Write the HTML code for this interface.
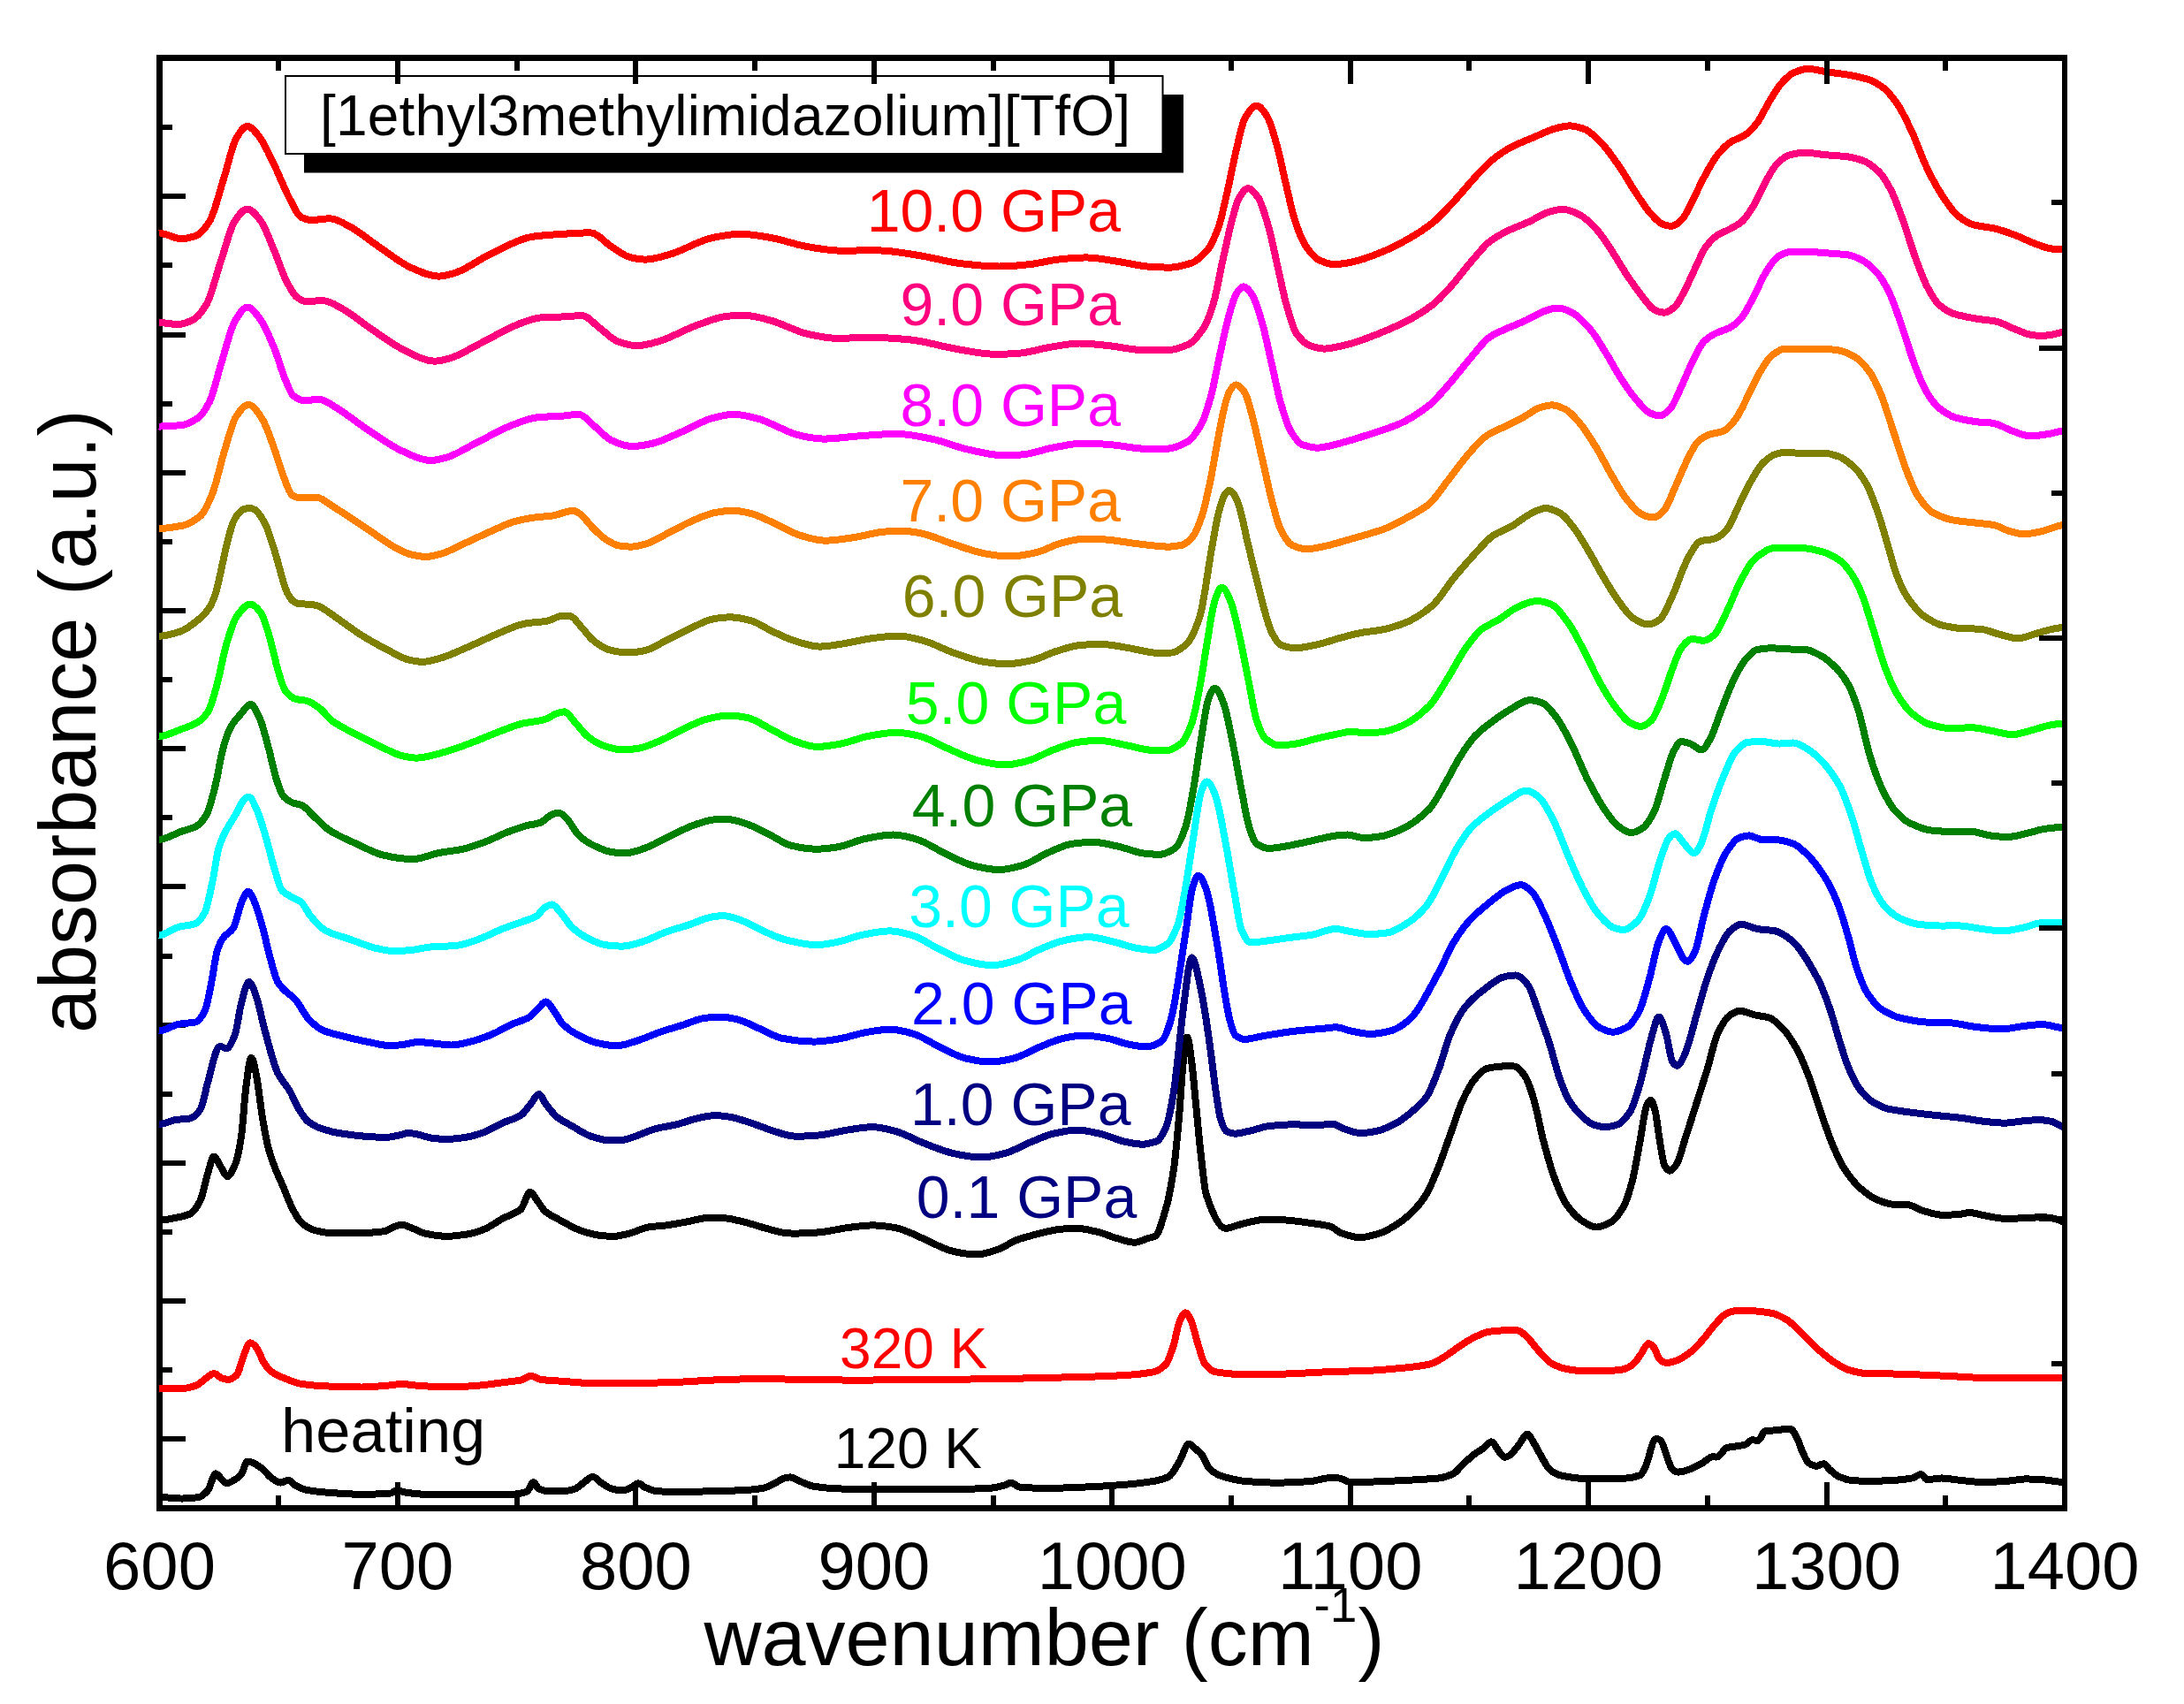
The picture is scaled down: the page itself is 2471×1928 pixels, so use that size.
<!DOCTYPE html>
<html><head><meta charset="utf-8"><title>IR absorbance spectra</title>
<style>
html,body{margin:0;padding:0;background:#fff}
body{width:2471px;height:1928px;overflow:hidden}
svg{display:block}
text{font-family:"Liberation Sans",sans-serif}
</style></head><body>
<svg width="2471" height="1928" viewBox="0 0 2471 1928">
<rect width="2471" height="1928" fill="#fff"/>
<path d="M315.2 1703.0v-11M449.9 1703.0v-26M584.7 1703.0v-11M719.4 1703.0v-26M854.1 1703.0v-11M988.8 1703.0v-26M1123.5 1703.0v-11M1258.2 1703.0v-26M1393.0 1703.0v-11M1527.7 1703.0v-26M1662.4 1703.0v-11M1797.1 1703.0v-26M1931.8 1703.0v-11M2066.6 1703.0v-26M2201.3 1703.0v-11M184 1628.3h26M184 1550.2h11M184 1472.1h26M184 1394.0h11M184 1315.9h26M184 1237.7h11M184 1159.6h26M184 1081.5h11M184 1003.4h26M184 925.3h11M184 847.2h26M184 769.1h11M184 691.0h26M184 612.9h11M184 534.7h26M184 456.6h11M184 378.5h26M184 300.4h11M184 222.3h26M184 144.2h11" stroke="#000" stroke-width="6" fill="none" shape-rendering="crispEdges"/>
<path d="M177 1703H2339V1710H177ZM177 62H184V1710H177Z" fill="#000" shape-rendering="crispEdges"/>
<g fill="none" stroke-width="8" stroke-linejoin="round" stroke-linecap="butt" shape-rendering="crispEdges">
<path stroke="#000000" d="M180.0 1694.1C180.7 1694.1 181.3 1694.1 182.0 1694.1C189.5 1694.2 196.9 1695.3 204.3 1695.5C211.2 1695.7 218.1 1694.9 224.9 1694.1C228.4 1693.7 231.8 1690.0 235.2 1686.2C238.2 1682.9 241.2 1667.0 244.2 1667.3C246.4 1667.6 248.5 1671.5 250.7 1673.5C252.4 1675.1 254.1 1678.0 255.9 1678.3C258.1 1678.7 260.4 1677.0 262.7 1675.9C266.0 1674.3 269.2 1672.2 272.5 1668.7C275.0 1666.1 277.4 1654.1 279.9 1653.6C282.2 1653.2 284.5 1654.2 286.8 1655.3C290.2 1656.9 293.6 1659.4 297.1 1662.2C300.5 1664.9 303.9 1670.1 307.4 1672.5C310.8 1674.9 314.2 1677.4 317.7 1677.6C320.6 1677.8 323.6 1674.4 326.6 1674.7C329.3 1675.1 332.1 1679.7 334.8 1681.1C339.4 1683.4 344.0 1685.5 348.6 1686.2C355.4 1687.3 362.3 1688.1 369.2 1688.6C380.6 1689.5 392.1 1690.4 403.5 1690.7C416.1 1691.0 428.7 1690.5 441.3 1689.7C444.2 1689.5 447.0 1686.2 449.9 1686.2C452.7 1686.3 455.6 1688.2 458.5 1688.6C465.3 1689.6 472.2 1690.5 479.1 1690.7C490.5 1691.0 502.0 1691.3 513.4 1691.4C524.9 1691.4 536.3 1691.4 547.7 1691.4C559.2 1691.4 570.6 1691.0 582.1 1690.7C586.7 1690.5 591.2 1689.5 595.8 1687.9C598.5 1687.0 601.1 1677.1 603.7 1677.1C605.7 1677.1 607.6 1683.7 609.6 1684.5C613.0 1686.0 616.4 1687.2 619.9 1687.3C625.6 1687.4 631.3 1687.4 637.0 1687.3C641.6 1687.1 646.2 1686.1 650.8 1684.5C654.2 1683.3 657.6 1679.3 661.1 1677.0C664.3 1674.7 667.5 1670.7 670.7 1670.8C673.8 1670.8 676.9 1675.7 680.0 1677.6C684.0 1680.2 688.0 1683.4 692.0 1684.5C696.6 1685.8 701.1 1686.7 705.7 1686.2C709.1 1685.9 712.6 1683.5 716.0 1681.8C718.0 1680.8 719.9 1678.3 721.9 1678.3C724.5 1678.3 727.1 1681.7 729.8 1682.8C734.3 1684.6 738.9 1687.0 743.5 1687.3C752.6 1687.7 761.8 1688.0 771.0 1687.9C782.4 1687.8 793.9 1687.5 805.3 1687.3C816.7 1687.0 828.2 1686.7 839.6 1686.2C847.7 1685.9 855.7 1685.2 863.7 1683.8C868.3 1683.0 872.8 1679.8 877.4 1677.6C880.9 1676.0 884.3 1673.5 887.7 1672.5C890.0 1671.8 892.3 1671.2 894.6 1671.5C898.0 1671.9 901.5 1674.5 904.9 1675.9C910.1 1678.0 915.4 1681.0 920.6 1681.8C930.9 1683.3 941.2 1684.3 951.5 1684.5C968.7 1684.8 985.9 1685.2 1003.0 1685.2C1025.9 1685.2 1048.8 1685.2 1071.7 1685.2C1087.7 1685.2 1103.8 1684.6 1119.8 1683.8C1125.5 1683.5 1131.2 1681.9 1137.0 1680.4C1139.2 1679.8 1141.5 1677.7 1143.8 1677.6C1147.3 1677.6 1150.7 1682.6 1154.1 1682.8C1166.7 1683.6 1179.3 1684.1 1191.9 1683.8C1209.1 1683.5 1226.2 1682.6 1243.4 1681.8C1254.9 1681.2 1266.3 1680.3 1277.7 1679.4C1286.9 1678.6 1296.1 1677.3 1305.2 1675.9C1310.9 1675.0 1316.7 1673.6 1322.4 1670.8C1326.4 1668.8 1330.4 1660.1 1334.4 1653.6C1337.8 1648.0 1341.3 1634.3 1344.7 1633.9C1347.6 1633.5 1350.4 1637.4 1353.3 1639.9C1355.6 1641.8 1357.9 1643.8 1360.2 1646.7C1363.0 1650.3 1365.9 1659.7 1368.8 1662.2C1373.9 1666.7 1379.1 1669.3 1384.2 1670.8C1392.2 1673.0 1400.2 1675.3 1408.2 1675.9C1419.7 1676.8 1431.1 1677.6 1442.6 1677.6C1456.3 1677.7 1470.1 1677.0 1483.8 1675.9C1489.5 1675.5 1495.2 1672.9 1501.0 1672.5C1505.5 1672.1 1510.1 1672.2 1514.7 1672.5C1519.3 1672.8 1523.9 1676.9 1528.4 1677.0C1542.2 1677.1 1555.9 1676.5 1569.6 1675.9C1588.9 1675.1 1608.2 1674.2 1627.5 1672.5C1633.2 1672.0 1638.9 1670.2 1644.6 1667.3C1648.1 1665.6 1651.5 1660.2 1654.9 1657.0C1659.5 1652.8 1664.1 1648.5 1668.7 1645.0C1672.1 1642.4 1675.5 1640.6 1679.0 1638.1C1681.8 1636.1 1684.7 1631.2 1687.6 1631.3C1689.9 1631.3 1692.1 1637.0 1694.4 1639.9C1696.7 1642.7 1699.0 1647.6 1701.3 1648.4C1703.6 1649.3 1705.9 1648.2 1708.2 1646.7C1711.6 1644.5 1715.0 1638.9 1718.5 1634.7C1721.6 1630.9 1724.7 1623.2 1727.7 1622.7C1730.4 1622.3 1733.0 1628.9 1735.6 1633.0C1738.5 1637.5 1741.4 1643.6 1744.2 1648.4C1747.1 1653.3 1750.0 1659.7 1752.8 1662.2C1756.8 1665.7 1760.8 1668.1 1764.8 1669.1C1771.7 1670.6 1778.6 1672.1 1785.4 1672.5C1794.6 1673.0 1803.8 1673.5 1812.9 1673.5C1822.1 1673.5 1831.2 1673.0 1840.4 1672.5C1845.5 1672.2 1850.7 1671.0 1855.8 1669.1C1858.1 1668.2 1860.4 1662.1 1862.7 1657.0C1865.7 1650.4 1868.8 1631.9 1871.8 1629.2C1874.5 1626.9 1877.2 1627.9 1879.9 1631.3C1882.2 1634.2 1884.5 1644.4 1886.7 1650.2C1888.5 1654.5 1890.2 1660.7 1891.9 1662.2C1894.2 1664.2 1896.5 1665.8 1898.8 1665.6C1903.3 1665.3 1907.9 1663.9 1912.5 1662.2C1917.1 1660.5 1921.7 1657.9 1926.2 1655.3C1929.7 1653.4 1933.1 1649.4 1936.5 1648.4C1938.8 1647.8 1941.1 1649.0 1943.4 1648.4C1946.8 1647.6 1950.3 1639.1 1953.7 1638.1C1957.1 1637.2 1960.6 1637.0 1964.0 1636.4C1967.4 1635.9 1970.9 1635.6 1974.3 1634.7C1976.6 1634.1 1978.9 1630.3 1981.2 1629.6C1984.0 1628.7 1986.9 1630.4 1989.8 1629.6C1992.1 1628.9 1994.3 1619.6 1996.6 1619.3C1999.5 1618.8 2002.4 1618.8 2005.2 1618.6C2008.7 1618.2 2012.1 1617.9 2015.5 1617.5C2019.0 1617.2 2022.4 1616.9 2025.8 1616.9C2028.1 1616.8 2030.4 1622.0 2032.7 1626.1C2035.0 1630.2 2037.3 1638.6 2039.6 1643.3C2041.8 1648.0 2044.1 1653.8 2046.4 1655.3C2049.3 1657.2 2052.2 1658.8 2055.0 1658.8C2057.9 1658.7 2060.7 1656.0 2063.6 1656.3C2065.9 1656.7 2068.2 1661.3 2070.5 1663.2C2073.9 1666.1 2077.3 1669.3 2080.8 1670.8C2085.3 1672.7 2089.9 1674.5 2094.5 1674.9C2101.4 1675.4 2108.2 1676.0 2115.1 1675.9C2124.3 1675.8 2133.4 1675.4 2142.6 1674.9C2149.5 1674.5 2156.3 1673.6 2163.2 1672.5C2166.6 1671.9 2170.1 1668.1 2173.5 1668.0C2175.8 1668.0 2178.1 1674.2 2180.4 1674.2C2186.1 1674.3 2191.8 1672.1 2197.5 1672.5C2204.4 1672.9 2211.3 1674.2 2218.1 1674.9C2226.1 1675.7 2234.2 1676.8 2242.2 1677.0C2251.3 1677.1 2260.5 1676.5 2269.6 1675.9C2276.5 1675.5 2283.4 1673.7 2290.2 1673.5C2297.1 1673.3 2304.0 1673.8 2310.9 1674.2C2318.9 1674.7 2326.9 1676.7 2334.9 1677.0C2335.3 1677.0 2335.6 1677.0 2336.0 1677.0"/>
<path stroke="#ff0000" d="M180.0 1571.2C180.7 1571.2 181.3 1571.2 182.0 1571.2C189.5 1571.2 196.9 1571.2 204.3 1571.2C210.1 1571.2 215.8 1569.7 221.5 1567.7C225.5 1566.4 229.5 1561.8 233.5 1559.2C236.4 1557.3 239.3 1554.0 242.1 1554.0C245.0 1554.0 247.8 1558.1 250.7 1559.2C253.0 1560.0 255.3 1560.7 257.6 1560.9C261.0 1561.1 264.4 1559.0 267.9 1555.7C270.2 1553.5 272.4 1542.6 274.7 1536.8C277.2 1530.6 279.7 1520.8 282.1 1519.7C284.8 1518.4 287.5 1521.4 290.2 1524.8C293.1 1528.5 295.9 1537.7 298.8 1542.0C301.6 1546.3 304.5 1550.4 307.4 1552.3C311.9 1555.4 316.5 1557.4 321.1 1559.2C328.0 1561.8 334.8 1565.1 341.7 1566.0C350.9 1567.3 360.0 1568.1 369.2 1568.4C382.9 1569.0 396.6 1569.6 410.4 1569.5C419.5 1569.4 428.7 1568.4 437.9 1567.7C443.6 1567.3 449.3 1566.0 455.0 1566.0C460.8 1566.0 466.5 1567.4 472.2 1567.7C483.6 1568.5 495.1 1569.4 506.5 1569.5C518.0 1569.5 529.4 1568.6 540.9 1567.7C550.0 1567.0 559.2 1565.5 568.4 1564.3C575.2 1563.4 582.1 1562.9 589.0 1561.6C593.0 1560.8 597.0 1556.8 601.0 1556.8C604.4 1556.7 607.8 1560.5 611.3 1560.9C618.7 1561.8 626.2 1562.1 633.6 1562.6C645.0 1563.4 656.5 1564.8 667.9 1565.0C685.1 1565.2 702.3 1565.2 719.5 1565.0C736.6 1564.8 753.8 1564.3 771.0 1563.6C782.4 1563.2 793.9 1562.0 805.3 1561.6C822.5 1560.9 839.6 1560.2 856.8 1560.2C894.1 1560.3 931.4 1561.6 968.7 1561.6C1003.0 1561.6 1037.4 1561.2 1071.7 1560.9C1106.0 1560.5 1140.4 1559.8 1174.7 1559.2C1197.6 1558.7 1220.5 1558.2 1243.4 1557.4C1254.9 1557.1 1266.3 1556.4 1277.7 1555.7C1286.9 1555.2 1296.1 1553.9 1305.2 1552.3C1309.8 1551.5 1314.4 1548.1 1319.0 1543.7C1321.8 1541.0 1324.7 1531.7 1327.5 1523.1C1329.8 1516.2 1332.1 1501.0 1334.4 1495.6C1336.7 1490.3 1339.0 1485.2 1341.3 1485.3C1343.6 1485.5 1345.9 1490.4 1348.1 1495.6C1350.4 1500.8 1352.7 1512.5 1355.0 1519.7C1357.9 1528.6 1360.7 1540.4 1363.6 1543.7C1367.6 1548.4 1371.6 1551.7 1375.6 1552.3C1383.1 1553.5 1390.5 1554.7 1397.9 1554.7C1415.1 1554.8 1432.3 1555.1 1449.5 1554.7C1466.6 1554.3 1483.8 1553.0 1501.0 1552.3C1518.1 1551.6 1535.3 1551.4 1552.5 1550.6C1563.9 1550.0 1575.4 1548.9 1586.8 1547.8C1596.9 1546.9 1607.1 1545.8 1617.2 1543.7C1622.9 1542.5 1628.6 1538.5 1634.3 1535.1C1640.1 1531.7 1645.8 1526.8 1651.5 1523.1C1657.2 1519.4 1663.0 1515.4 1668.7 1512.8C1674.4 1510.2 1680.1 1507.3 1685.9 1506.6C1691.6 1505.9 1697.3 1505.4 1703.0 1505.2C1707.6 1505.1 1712.2 1505.1 1716.8 1505.2C1720.2 1505.4 1723.6 1509.1 1727.1 1512.1C1731.6 1516.1 1736.2 1523.3 1740.8 1528.3C1745.4 1533.2 1750.0 1539.3 1754.5 1542.0C1760.3 1545.3 1766.0 1547.9 1771.7 1548.9C1778.6 1550.0 1785.4 1551.2 1792.3 1551.3C1799.2 1551.3 1806.0 1551.3 1812.9 1551.3C1819.8 1551.2 1826.6 1550.6 1833.5 1549.9C1837.5 1549.5 1841.5 1547.7 1845.5 1545.4C1849.0 1543.5 1852.4 1537.9 1855.8 1533.4C1858.7 1529.7 1861.6 1521.5 1864.4 1520.4C1866.7 1519.4 1869.0 1522.1 1871.3 1524.8C1873.6 1527.5 1875.9 1536.9 1878.2 1538.6C1881.0 1540.6 1883.9 1542.2 1886.7 1542.0C1890.8 1541.7 1894.8 1540.2 1898.8 1538.6C1903.3 1536.7 1907.9 1533.5 1912.5 1530.0C1917.1 1526.5 1921.7 1521.3 1926.2 1516.2C1930.8 1511.1 1935.4 1504.1 1940.0 1499.1C1944.6 1494.1 1949.1 1487.9 1953.7 1486.0C1958.3 1484.2 1962.9 1482.5 1967.4 1482.6C1974.3 1482.6 1981.2 1483.1 1988.0 1483.6C1993.8 1484.1 1999.5 1484.9 2005.2 1486.0C2010.9 1487.1 2016.7 1490.4 2022.4 1493.9C2028.1 1497.4 2033.8 1503.9 2039.6 1509.4C2045.3 1514.8 2051.0 1521.4 2056.7 1526.5C2062.5 1531.6 2068.2 1536.5 2073.9 1540.3C2079.6 1544.0 2085.3 1548.2 2091.1 1549.9C2097.9 1551.9 2104.8 1553.8 2111.7 1554.0C2124.3 1554.4 2136.9 1554.3 2149.5 1554.7C2166.6 1555.2 2183.8 1556.0 2201.0 1556.8C2218.1 1557.5 2235.3 1559.2 2252.5 1559.2C2263.9 1559.2 2275.4 1559.2 2286.8 1559.2C2302.8 1559.2 2318.9 1559.2 2334.9 1559.2C2335.3 1559.2 2335.6 1559.2 2336.0 1559.2"/>
<path stroke="#000000" d="M180.0 1380.6C180.7 1380.6 181.3 1380.6 182.0 1380.6C187.2 1380.4 192.3 1379.1 197.5 1378.2C203.2 1377.2 208.9 1375.9 214.6 1373.7C218.6 1372.2 222.7 1366.2 226.7 1358.3C229.5 1352.6 232.4 1336.4 235.2 1327.4C237.5 1320.2 239.8 1308.1 242.1 1308.5C244.4 1308.8 246.7 1315.2 249.0 1318.8C251.5 1322.7 254.0 1329.4 256.5 1330.8C259.7 1332.6 262.9 1323.8 266.2 1317.1C268.4 1312.3 270.7 1300.9 273.0 1286.2C274.7 1275.1 276.5 1244.2 278.2 1231.2C280.2 1215.6 282.3 1197.0 284.4 1196.9C286.3 1196.8 288.2 1207.5 290.2 1217.5C292.5 1229.2 294.8 1252.2 297.1 1265.5C299.3 1278.9 301.6 1291.5 303.9 1299.9C306.2 1308.3 308.5 1314.6 310.8 1320.5C314.2 1329.3 317.7 1336.5 321.1 1344.5C324.5 1352.5 328.0 1362.2 331.4 1368.6C334.8 1375.0 338.3 1381.3 341.7 1384.0C346.3 1387.7 350.9 1390.8 355.4 1391.9C362.3 1393.5 369.2 1395.3 376.0 1395.4C385.2 1395.5 394.4 1395.5 403.5 1395.4C413.8 1395.2 424.1 1394.6 434.4 1393.3C437.9 1392.9 441.3 1389.7 444.7 1388.5C448.2 1387.3 451.6 1385.6 455.0 1385.7C458.5 1385.9 461.9 1387.9 465.3 1389.2C471.1 1391.3 476.8 1394.9 482.5 1396.0C490.5 1397.6 498.5 1398.9 506.5 1398.8C513.4 1398.7 520.3 1397.7 527.1 1396.7C534.0 1395.7 540.9 1393.6 547.7 1390.9C554.6 1388.2 561.5 1382.7 568.4 1378.9C575.2 1375.1 582.1 1373.8 589.0 1368.6C592.6 1365.8 596.2 1348.7 599.8 1348.8C602.5 1348.9 605.2 1354.8 607.8 1358.3C610.7 1362.0 613.6 1367.8 616.4 1370.3C622.2 1375.2 627.9 1377.5 633.6 1380.6C641.6 1384.9 649.6 1389.9 657.6 1392.6C664.5 1394.9 671.4 1397.0 678.2 1397.8C684.0 1398.4 689.7 1399.0 695.4 1398.8C701.1 1398.6 706.9 1396.8 712.6 1395.4C719.5 1393.6 726.3 1389.7 733.2 1388.5C740.1 1387.3 746.9 1387.4 753.8 1386.4C761.8 1385.3 769.8 1383.8 777.8 1382.3C784.7 1381.0 791.6 1378.7 798.4 1378.2C805.3 1377.7 812.2 1377.8 819.0 1378.2C827.1 1378.6 835.1 1381.1 843.1 1383.0C852.2 1385.2 861.4 1388.6 870.5 1390.9C877.4 1392.6 884.3 1395.0 891.2 1395.4C903.3 1395.9 915.4 1395.4 927.5 1394.3C937.8 1393.4 948.1 1390.5 958.4 1389.2C967.5 1388.0 976.7 1386.7 985.9 1386.4C995.0 1386.2 1004.2 1387.6 1013.3 1389.2C1023.6 1391.0 1033.9 1396.9 1044.2 1401.2C1054.5 1405.5 1064.8 1412.2 1075.1 1414.9C1085.4 1417.6 1095.7 1419.7 1106.0 1419.4C1114.1 1419.1 1122.1 1416.1 1130.1 1413.2C1137.0 1410.8 1143.8 1405.4 1150.7 1402.9C1158.7 1400.0 1166.7 1398.0 1174.7 1396.0C1182.7 1394.1 1190.8 1391.8 1198.8 1390.9C1205.6 1390.1 1212.5 1389.7 1219.4 1389.9C1227.4 1390.1 1235.4 1392.4 1243.4 1394.3C1250.3 1396.0 1257.1 1399.3 1264.0 1401.2C1270.9 1403.1 1277.7 1405.9 1284.6 1405.7C1289.2 1405.5 1293.8 1402.6 1298.4 1401.2C1301.2 1400.3 1304.1 1400.0 1306.9 1398.8C1311.1 1397.0 1315.2 1380.3 1319.3 1366.6C1322.2 1357.0 1325.1 1341.7 1328.0 1322.6C1330.0 1309.4 1332.0 1286.7 1334.0 1264.0C1335.5 1247.4 1336.9 1219.0 1338.4 1205.0C1339.9 1190.3 1341.5 1173.3 1343.0 1173.5C1344.9 1173.7 1346.8 1190.2 1348.7 1205.0C1350.1 1216.2 1351.6 1234.5 1353.0 1249.0C1355.0 1268.9 1356.9 1291.0 1358.9 1308.0C1360.9 1325.0 1362.8 1346.3 1364.8 1352.0C1372.4 1374.0 1380.0 1390.9 1387.6 1389.9C1394.5 1388.9 1401.4 1385.5 1408.2 1384.0C1416.3 1382.4 1424.3 1379.7 1432.3 1379.6C1440.3 1379.4 1448.3 1379.9 1456.3 1380.6C1465.5 1381.3 1474.6 1382.8 1483.8 1384.0C1490.7 1385.0 1497.5 1385.7 1504.4 1387.5C1509.0 1388.6 1513.6 1393.7 1518.1 1395.4C1525.0 1397.8 1531.9 1400.2 1538.7 1400.2C1545.6 1400.2 1552.5 1398.0 1559.3 1396.0C1566.2 1394.1 1573.1 1389.9 1579.9 1385.7C1586.8 1381.6 1593.7 1375.4 1600.5 1368.6C1604.9 1364.2 1609.3 1358.6 1613.7 1351.4C1618.3 1343.9 1622.9 1331.9 1627.5 1320.5C1632.1 1309.1 1636.6 1295.3 1641.2 1282.7C1645.8 1270.1 1650.4 1254.9 1654.9 1244.9C1659.5 1235.0 1664.1 1226.1 1668.7 1220.9C1673.3 1215.7 1677.8 1209.9 1682.4 1208.9C1688.1 1207.6 1693.9 1206.7 1699.6 1206.5C1704.2 1206.3 1708.7 1206.3 1713.3 1206.5C1717.3 1206.6 1721.3 1212.2 1725.3 1217.5C1728.8 1222.0 1732.2 1233.5 1735.6 1244.9C1739.1 1256.4 1742.5 1276.4 1745.9 1289.6C1750.0 1304.9 1754.0 1320.0 1758.0 1330.8C1762.5 1343.2 1767.1 1355.1 1771.7 1361.7C1777.4 1369.9 1783.2 1377.0 1788.9 1380.6C1794.6 1384.2 1800.3 1388.2 1806.0 1388.5C1811.8 1388.8 1817.5 1385.4 1823.2 1382.3C1827.8 1379.8 1832.4 1372.9 1837.0 1365.1C1840.4 1359.3 1843.8 1347.5 1847.3 1334.2C1850.1 1323.2 1853.0 1304.9 1855.8 1289.6C1858.1 1277.4 1860.4 1258.1 1862.7 1251.8C1864.4 1247.1 1866.1 1244.4 1867.9 1244.9C1869.6 1245.5 1871.3 1251.7 1873.0 1258.7C1874.7 1265.6 1876.4 1283.2 1878.2 1293.0C1879.9 1302.9 1881.6 1315.7 1883.3 1318.8C1885.3 1322.2 1887.2 1324.9 1889.1 1324.6C1891.8 1324.2 1894.4 1321.3 1897.0 1317.1C1900.5 1311.5 1903.9 1296.7 1907.3 1286.2C1911.4 1273.8 1915.4 1261.0 1919.4 1248.4C1923.4 1235.8 1927.4 1223.7 1931.4 1210.6C1935.4 1197.5 1939.4 1178.1 1943.4 1169.5C1948.0 1159.6 1952.6 1151.7 1957.1 1148.8C1961.1 1146.4 1965.2 1143.2 1969.2 1143.7C1974.3 1144.3 1979.5 1146.9 1984.6 1148.2C1990.3 1149.6 1996.1 1149.8 2001.8 1151.6C2007.5 1153.4 2013.2 1159.9 2019.0 1166.0C2023.5 1170.9 2028.1 1178.5 2032.7 1186.6C2037.3 1194.8 2041.8 1205.7 2046.4 1217.5C2051.0 1229.3 2055.6 1245.5 2060.2 1258.7C2064.7 1271.8 2069.3 1285.8 2073.9 1296.5C2078.5 1307.1 2083.1 1317.2 2087.6 1323.9C2093.4 1332.4 2099.1 1339.6 2104.8 1344.5C2110.5 1349.4 2116.3 1354.0 2122.0 1356.6C2127.7 1359.1 2133.4 1361.6 2139.1 1362.4C2146.0 1363.3 2152.9 1362.2 2159.8 1363.4C2165.5 1364.4 2171.2 1368.7 2176.9 1370.3C2183.8 1372.2 2190.7 1374.6 2197.5 1374.8C2204.4 1374.9 2211.3 1374.4 2218.1 1373.7C2221.6 1373.4 2225.0 1372.0 2228.4 1372.0C2234.2 1372.1 2239.9 1374.5 2245.6 1375.4C2253.6 1376.8 2261.6 1378.9 2269.6 1378.9C2276.5 1378.9 2283.4 1378.5 2290.2 1378.2C2297.1 1377.9 2304.0 1377.3 2310.9 1377.2C2315.4 1377.1 2320.0 1378.0 2324.6 1378.9C2328.0 1379.5 2331.5 1381.9 2334.9 1382.3C2335.3 1382.3 2335.6 1382.3 2336.0 1382.3"/>
<path stroke="#ff0000" d="M180.0 264.1C180.6 264.0 181.1 264.0 181.7 264.1C189.0 264.6 196.2 269.3 203.5 270.1C209.0 270.7 214.6 268.9 220.2 267.4C225.8 266.0 231.3 259.4 236.9 250.7C242.5 242.0 248.1 217.9 253.6 200.5C258.1 186.6 262.6 164.9 267.0 157.0C271.5 149.2 275.9 142.4 280.4 143.0C284.9 143.6 289.3 149.5 293.8 155.3C299.4 162.7 304.9 175.7 310.5 187.1C316.1 198.5 321.7 213.4 327.2 223.9C331.7 232.4 336.2 243.5 340.6 245.7C344.5 247.6 348.4 249.0 352.3 249.0C359.6 249.1 366.8 246.9 374.1 247.4C381.9 247.8 389.7 253.1 397.5 257.4C408.6 263.5 419.8 273.3 431.0 280.8C442.1 288.3 453.3 297.5 464.4 302.6C475.0 307.3 485.6 312.4 496.2 312.6C503.4 312.7 510.7 310.2 517.9 307.6C530.2 303.2 542.5 293.2 554.7 287.5C571.5 279.7 588.2 269.5 604.9 267.4C616.1 266.0 627.2 265.5 638.4 264.7C648.4 264.1 658.5 263.2 668.5 263.4C676.3 263.6 684.1 274.3 691.9 279.1C698.6 283.3 705.3 289.1 712.0 290.8C718.7 292.6 725.4 293.9 732.1 293.5C741.0 293.0 749.9 290.1 758.8 287.5C774.4 283.0 790.0 272.4 805.7 269.1C816.8 266.8 828.0 264.5 839.1 264.7C850.3 265.0 861.4 267.1 872.6 269.1C886.2 271.5 899.8 276.8 913.5 279.1C924.6 281.1 935.8 283.1 946.9 283.5C963.6 284.0 980.4 282.9 997.1 283.5C1011.6 284.0 1026.1 286.9 1040.6 289.2C1056.2 291.6 1071.8 296.4 1087.4 298.2C1101.9 299.9 1116.4 301.6 1130.9 301.5C1142.1 301.5 1153.2 300.4 1164.4 299.2C1175.5 298.0 1186.7 294.7 1197.8 293.5C1209.0 292.4 1220.1 291.2 1231.3 291.5C1242.4 291.8 1253.6 294.2 1264.7 295.9C1275.9 297.5 1287.0 300.5 1298.2 301.5C1307.1 302.4 1316.0 302.6 1325.0 302.6C1332.8 302.5 1340.6 299.9 1348.4 297.5C1354.0 295.8 1359.5 290.1 1365.1 284.2C1369.6 279.4 1374.0 269.4 1378.5 257.4C1381.8 248.4 1385.2 231.7 1388.5 217.2C1391.9 202.8 1395.2 184.3 1398.6 170.4C1401.9 156.5 1405.3 139.5 1408.6 133.6C1413.1 125.8 1417.5 119.2 1422.0 119.6C1425.9 119.8 1429.8 125.7 1433.7 131.9C1437.6 138.2 1441.5 153.0 1445.4 167.1C1448.7 179.1 1452.1 196.6 1455.4 210.5C1458.8 224.5 1462.1 240.9 1465.5 250.7C1469.9 263.8 1474.4 274.9 1478.9 280.8C1483.3 286.7 1487.8 292.3 1492.2 294.2C1497.8 296.6 1503.4 299.3 1509.0 299.2C1516.8 299.1 1524.6 297.6 1532.4 295.9C1543.5 293.4 1554.7 288.7 1565.8 284.2C1574.8 280.5 1583.7 275.8 1592.6 270.8C1601.9 265.6 1611.3 259.7 1620.6 252.3C1628.6 246.0 1636.6 236.8 1644.6 228.3C1652.7 219.7 1660.7 209.4 1668.7 200.8C1675.5 193.5 1682.4 185.7 1689.3 180.2C1696.2 174.7 1703.0 170.0 1709.9 166.5C1719.0 161.7 1728.2 158.3 1737.4 154.4C1744.2 151.5 1751.1 147.8 1758.0 145.9C1763.7 144.2 1769.4 142.7 1775.1 142.4C1780.9 142.2 1786.6 144.0 1792.3 145.9C1799.2 148.1 1806.0 155.9 1812.9 163.0C1819.8 170.1 1826.6 180.5 1833.5 190.5C1839.2 198.9 1845.0 209.4 1850.7 218.0C1856.4 226.5 1862.1 235.8 1867.9 242.0C1872.4 247.0 1877.0 252.3 1881.6 254.0C1885.0 255.3 1888.5 256.0 1891.9 255.7C1895.9 255.4 1899.9 251.5 1903.9 247.2C1907.9 242.8 1911.9 232.6 1915.9 224.8C1920.5 216.0 1925.1 205.6 1929.7 197.4C1934.2 189.1 1938.8 180.7 1943.4 175.0C1948.0 169.4 1952.6 164.5 1957.1 161.3C1962.9 157.4 1968.6 156.6 1974.3 152.7C1978.9 149.6 1983.5 144.9 1988.0 139.0C1992.6 133.1 1997.2 122.3 2001.8 114.9C2006.4 107.5 2010.9 99.4 2015.5 94.3C2020.1 89.2 2024.7 84.1 2029.3 82.3C2035.0 80.1 2040.7 77.5 2046.4 77.9C2053.3 78.3 2060.2 80.2 2067.0 81.3C2075.0 82.5 2083.1 83.4 2091.1 84.7C2097.9 85.9 2104.8 87.3 2111.7 89.2C2117.4 90.8 2123.1 94.0 2128.8 97.8C2134.6 101.5 2140.3 108.7 2146.0 116.7C2151.7 124.6 2157.5 137.1 2163.2 149.3C2168.9 161.5 2174.6 178.7 2180.4 190.5C2186.1 202.3 2191.8 212.8 2197.5 221.4C2203.3 230.0 2209.0 239.1 2214.7 243.7C2220.4 248.3 2226.1 252.4 2231.9 254.0C2241.0 256.6 2250.2 256.8 2259.3 259.2C2266.2 261.0 2273.1 263.5 2279.9 266.0C2288.0 269.1 2296.0 273.5 2304.0 276.3C2309.7 278.4 2315.4 280.8 2321.2 281.5C2325.7 282.0 2330.3 282.5 2334.9 282.5C2335.3 282.5 2335.6 282.5 2336.0 282.5"/>
<path stroke="#ff007f" d="M180.0 365.1C180.6 365.1 181.1 365.1 181.7 365.1C187.8 365.2 194.0 366.9 200.1 367.1C205.7 367.4 211.3 364.9 216.8 362.8C222.4 360.7 228.0 353.8 233.6 344.4C239.1 335.0 244.7 310.6 250.3 294.2C255.3 279.4 260.3 258.6 265.3 250.7C270.4 242.8 275.4 236.2 280.4 236.6C285.4 237.1 290.4 243.6 295.5 250.7C300.5 257.8 305.5 272.3 310.5 284.2C315.0 294.7 319.4 308.9 323.9 317.6C327.8 325.3 331.7 333.2 335.6 336.0C339.0 338.5 342.3 340.8 345.6 341.0C352.9 341.5 360.1 339.5 367.4 340.4C374.1 341.2 380.8 345.7 387.5 349.4C398.6 355.6 409.8 365.3 420.9 372.8C432.1 380.3 443.2 389.0 454.4 394.6C466.6 400.7 478.9 408.1 491.2 408.6C497.9 408.9 504.6 406.8 511.2 404.6C522.4 400.9 533.6 393.4 544.7 387.9C559.2 380.6 573.7 371.5 588.2 366.1C596.0 363.2 603.8 360.0 611.6 359.4C620.5 358.8 629.5 358.8 638.4 358.4C645.1 358.1 651.8 357.1 658.5 357.1C665.1 357.1 671.8 366.3 678.5 371.1C685.2 376.0 691.9 383.7 698.6 386.2C706.4 389.1 714.2 391.5 722.0 391.2C729.8 390.9 737.6 388.5 745.4 386.2C759.9 381.9 774.4 372.9 788.9 367.8C800.1 363.9 811.2 358.9 822.4 357.8C830.2 356.9 838.0 356.7 845.8 357.1C854.7 357.6 863.6 360.3 872.6 362.8C886.2 366.5 899.8 374.8 913.5 377.8C924.6 380.3 935.8 382.8 946.9 382.8C960.3 382.9 973.7 381.7 987.1 381.8C1001.6 382.0 1016.1 383.1 1030.5 384.5C1047.3 386.2 1064.0 391.7 1080.7 394.6C1094.1 396.9 1107.5 400.0 1120.9 400.6C1132.0 401.0 1143.2 400.6 1154.3 399.6C1165.5 398.6 1176.6 394.7 1187.8 392.9C1198.9 391.1 1210.1 388.6 1221.2 388.5C1232.4 388.5 1243.6 390.0 1254.7 391.2C1267.0 392.5 1279.2 395.5 1291.5 396.2C1301.5 396.8 1311.6 396.4 1321.6 396.2C1329.4 396.1 1337.2 392.8 1345.0 389.5C1350.6 387.2 1356.2 379.4 1361.8 371.1C1365.7 365.4 1369.6 354.3 1373.5 341.0C1376.8 329.7 1380.2 309.2 1383.5 294.2C1386.9 279.2 1390.2 263.1 1393.5 250.7C1396.3 240.4 1399.1 228.6 1401.9 223.9C1405.3 218.4 1408.6 213.3 1411.9 213.2C1415.8 213.2 1419.7 218.3 1423.7 223.9C1427.6 229.5 1431.5 243.7 1435.4 257.4C1438.7 269.1 1442.1 286.4 1445.4 300.9C1448.7 315.4 1452.1 332.6 1455.4 344.4C1459.3 358.1 1463.2 372.7 1467.1 377.8C1472.2 384.4 1477.2 389.8 1482.2 391.2C1487.8 392.8 1493.4 394.8 1498.9 394.6C1507.8 394.1 1516.8 391.8 1525.7 389.5C1536.8 386.7 1548.0 382.2 1559.1 377.8C1569.2 373.9 1579.2 369.5 1589.3 364.4C1599.7 359.2 1610.2 353.0 1620.6 345.0C1627.5 339.8 1634.3 332.0 1641.2 324.4C1649.2 315.6 1657.2 304.4 1665.2 295.2C1672.1 287.4 1679.0 278.1 1685.9 272.9C1692.7 267.7 1699.6 264.2 1706.5 260.9C1714.5 257.0 1722.5 254.3 1730.5 250.6C1737.4 247.4 1744.2 242.5 1751.1 240.3C1756.8 238.4 1762.5 236.9 1768.3 236.9C1774.0 236.8 1779.7 239.5 1785.4 242.0C1792.3 245.0 1799.2 251.9 1806.0 259.2C1811.8 265.2 1817.5 274.6 1823.2 283.2C1828.9 291.8 1834.7 302.1 1840.4 310.7C1846.1 319.2 1851.8 327.6 1857.6 334.7C1862.1 340.5 1866.7 347.7 1871.3 350.2C1875.3 352.4 1879.3 353.8 1883.3 353.6C1887.3 353.5 1891.3 350.3 1895.3 346.7C1899.3 343.2 1903.3 333.8 1907.3 326.1C1911.4 318.4 1915.4 308.7 1919.4 300.4C1922.8 293.3 1926.2 284.4 1929.7 279.8C1934.2 273.6 1938.8 268.9 1943.4 266.0C1948.0 263.2 1952.6 261.7 1957.1 259.2C1961.7 256.6 1966.3 254.4 1970.9 250.6C1975.5 246.8 1980.0 239.2 1984.6 231.7C1989.2 224.2 1993.8 212.1 1998.4 204.2C2002.9 196.3 2007.5 187.6 2012.1 183.6C2016.7 179.6 2021.2 176.0 2025.8 175.0C2031.5 173.8 2037.3 172.4 2043.0 172.6C2049.9 173.0 2056.7 174.3 2063.6 175.0C2072.8 176.0 2081.9 176.3 2091.1 177.4C2096.8 178.1 2102.5 179.9 2108.2 181.9C2114.0 183.9 2119.7 188.7 2125.4 193.9C2130.0 198.1 2134.6 206.0 2139.1 214.5C2143.7 223.1 2148.3 236.4 2152.9 248.9C2157.5 261.4 2162.0 277.6 2166.6 290.1C2171.2 302.6 2175.8 315.8 2180.4 324.4C2184.9 333.0 2189.5 341.3 2194.1 345.0C2199.8 349.7 2205.5 353.7 2211.3 355.3C2219.3 357.6 2227.3 359.1 2235.3 360.5C2243.3 361.9 2251.3 362.1 2259.3 363.9C2266.2 365.5 2273.1 369.9 2279.9 372.5C2286.8 375.1 2293.7 378.8 2300.5 379.4C2306.3 379.8 2312.0 379.8 2317.7 379.4C2323.4 378.9 2329.2 376.3 2334.9 375.9C2335.3 375.9 2335.6 375.9 2336.0 375.9"/>
<path stroke="#ff00ff" d="M180.0 482.5C180.6 482.6 181.1 482.5 181.7 482.5C190.1 482.5 198.4 481.7 206.8 480.9C212.4 480.3 218.0 476.7 223.5 473.2C228.0 470.4 232.5 463.7 236.9 454.8C241.4 445.9 245.8 425.5 250.3 411.3C255.3 395.3 260.3 373.5 265.3 364.4C270.4 355.4 275.4 347.2 280.4 347.7C285.4 348.2 290.4 355.7 295.5 362.8C300.5 369.9 305.5 382.3 310.5 394.6C314.4 404.1 318.3 418.7 322.2 428.0C325.6 436.0 328.9 445.7 332.3 448.1C336.2 450.8 340.1 453.0 344.0 453.1C350.1 453.3 356.2 451.4 362.4 452.1C368.5 452.8 374.6 457.8 380.8 461.5C391.9 468.1 403.1 477.5 414.2 484.9C427.6 493.7 441.0 503.8 454.4 510.0C465.0 514.9 475.6 520.7 486.2 521.0C493.4 521.2 500.7 519.1 507.9 516.7C517.9 513.3 528.0 506.6 538.0 501.6C551.4 494.9 564.8 486.8 578.2 481.5C588.2 477.6 598.2 473.1 608.3 472.2C617.2 471.4 626.1 471.4 635.0 470.8C641.7 470.4 648.4 468.8 655.1 468.8C660.7 468.9 666.3 477.1 671.8 481.5C678.5 486.9 685.2 495.2 691.9 498.3C699.7 501.9 707.5 505.0 715.3 505.0C723.1 504.9 730.9 503.5 738.7 501.6C749.9 498.9 761.0 493.0 772.2 488.2C783.4 483.5 794.5 476.2 805.7 473.2C814.0 470.9 822.4 468.8 830.7 468.8C839.1 468.9 847.5 471.1 855.8 473.2C872.8 477.4 889.8 489.9 906.8 493.2C915.7 495.0 924.6 496.9 933.5 496.6C946.9 496.2 960.3 494.2 973.7 493.2C987.1 492.3 1000.4 491.0 1013.8 490.9C1027.2 490.8 1040.6 493.9 1054.0 496.6C1067.4 499.2 1080.7 505.3 1094.1 508.3C1106.4 511.1 1118.6 514.4 1130.9 515.0C1139.8 515.4 1148.8 515.2 1157.7 514.3C1168.8 513.3 1180.0 508.7 1191.1 506.6C1202.3 504.6 1213.4 501.8 1224.6 501.6C1235.7 501.4 1246.9 502.3 1258.0 503.3C1269.2 504.2 1280.4 507.0 1291.5 507.6C1301.5 508.2 1311.6 507.9 1321.6 507.6C1328.9 507.5 1336.1 503.6 1343.4 499.9C1348.4 497.4 1353.4 489.8 1358.4 481.5C1362.3 475.1 1366.2 462.2 1370.1 448.1C1373.5 436.0 1376.8 416.3 1380.2 401.2C1383.5 386.2 1386.9 369.7 1390.2 357.8C1393.0 347.8 1395.8 337.0 1398.6 332.7C1401.3 328.4 1404.1 324.3 1406.9 324.3C1410.3 324.4 1413.6 329.3 1417.0 334.3C1420.9 340.2 1424.8 354.1 1428.7 367.8C1432.0 379.5 1435.4 396.8 1438.7 411.3C1442.1 425.8 1445.4 443.0 1448.7 454.8C1452.6 468.5 1456.6 482.1 1460.5 488.2C1464.9 495.3 1469.4 502.0 1473.8 503.3C1480.0 505.1 1486.1 507.2 1492.2 506.6C1500.0 506.0 1507.8 503.6 1515.7 501.6C1526.8 498.8 1538.0 495.1 1549.1 491.6C1560.3 488.0 1571.4 484.6 1582.6 479.9C1594.1 475.0 1605.6 467.5 1617.2 458.4C1625.2 452.0 1633.2 441.7 1641.2 432.6C1649.2 423.5 1657.2 412.6 1665.2 403.4C1672.1 395.5 1679.0 385.7 1685.9 381.1C1691.6 377.2 1697.3 375.1 1703.0 372.5C1711.0 368.9 1719.0 365.9 1727.1 362.2C1733.9 359.0 1740.8 354.3 1747.7 351.9C1752.8 350.1 1758.0 348.6 1763.1 348.5C1768.3 348.4 1773.4 351.1 1778.6 353.6C1785.4 356.9 1792.3 364.6 1799.2 372.5C1804.9 379.1 1810.6 389.1 1816.3 398.3C1822.1 407.4 1827.8 418.6 1833.5 427.4C1839.2 436.3 1845.0 444.8 1850.7 451.5C1855.8 457.5 1861.0 464.2 1866.1 466.9C1870.1 469.1 1874.2 470.5 1878.2 470.4C1882.2 470.2 1886.2 466.2 1890.2 461.8C1894.2 457.3 1898.2 446.3 1902.2 437.7C1906.8 428.0 1911.4 415.8 1915.9 406.8C1919.9 399.0 1923.9 390.2 1928.0 386.2C1932.0 382.3 1936.0 379.7 1940.0 377.7C1945.7 374.7 1951.4 373.9 1957.1 370.8C1961.7 368.3 1966.3 364.1 1970.9 358.8C1975.5 353.4 1980.0 343.3 1984.6 334.7C1989.2 326.2 1993.8 314.4 1998.4 307.3C2002.9 300.1 2007.5 292.6 2012.1 290.1C2016.7 287.5 2021.2 285.0 2025.8 284.9C2032.7 284.8 2039.6 284.7 2046.4 284.9C2054.4 285.2 2062.5 286.0 2070.5 286.6C2077.3 287.2 2084.2 287.5 2091.1 288.4C2096.8 289.1 2102.5 292.2 2108.2 295.2C2114.0 298.2 2119.7 304.1 2125.4 310.7C2130.0 316.0 2134.6 324.9 2139.1 334.7C2143.7 344.6 2148.3 359.4 2152.9 372.5C2157.5 385.6 2162.0 401.9 2166.6 413.7C2171.2 425.6 2175.8 437.4 2180.4 444.6C2184.9 451.9 2189.5 458.2 2194.1 461.8C2199.8 466.2 2205.5 470.4 2211.3 472.1C2219.3 474.4 2227.3 476.2 2235.3 477.2C2242.2 478.1 2249.0 477.7 2255.9 479.0C2262.8 480.2 2269.6 485.2 2276.5 487.5C2283.4 489.9 2290.2 493.3 2297.1 493.4C2304.0 493.4 2310.9 492.1 2317.7 491.0C2323.4 490.1 2329.2 487.9 2334.9 487.5C2335.3 487.5 2335.6 487.5 2336.0 487.5"/>
<path stroke="#ff8000" d="M180.0 598.0C180.6 598.0 181.1 598.0 181.7 598.0C190.1 597.8 198.4 596.2 206.8 594.6C213.5 593.4 220.2 588.9 226.9 583.6C231.3 580.0 235.8 569.6 240.3 558.5C244.7 547.4 249.2 526.1 253.6 511.6C258.1 497.2 262.6 478.4 267.0 471.5C272.0 463.8 277.1 457.4 282.1 458.1C287.1 458.8 292.1 466.7 297.1 474.8C301.6 482.1 306.1 496.1 310.5 508.3C313.9 517.5 317.2 529.9 320.5 538.4C323.9 546.9 327.2 558.2 330.6 560.2C333.9 562.1 337.3 563.4 340.6 563.5C346.8 563.7 352.9 562.0 359.0 562.8C365.2 563.7 371.3 569.8 377.4 573.5C388.6 580.4 399.7 588.0 410.9 595.3C423.9 603.8 437.0 614.4 450.0 621.1C455.0 623.7 460.1 626.3 465.1 627.4C471.0 628.8 476.9 630.1 482.8 629.9C488.7 629.8 494.6 628.0 500.5 626.2C508.9 623.6 517.3 618.6 525.7 614.8C535.8 610.2 545.9 605.3 556.0 600.9C565.2 596.9 574.5 592.0 583.7 589.6C591.3 587.6 598.8 586.3 606.4 585.3C613.1 584.4 619.9 584.4 626.6 583.3C630.8 582.6 635.0 580.6 639.2 579.5C642.1 578.7 645.1 577.8 648.0 577.7C651.0 577.6 653.9 579.9 656.9 582.0C661.1 585.0 665.3 591.7 669.5 595.9C674.5 600.9 679.6 606.5 684.6 609.8C689.7 613.0 694.7 616.5 699.7 617.3C704.8 618.2 709.8 618.8 714.9 618.6C720.8 618.3 726.7 616.7 732.5 614.8C741.0 612.1 749.4 606.4 757.8 602.2C767.0 597.6 776.3 592.2 785.5 588.3C793.1 585.1 800.7 581.7 808.2 580.2C815.0 578.9 821.7 577.7 828.4 577.7C835.1 577.7 841.9 579.2 848.6 580.7C859.1 583.2 869.5 589.3 880.0 593.9C888.2 597.6 896.5 603.0 904.7 605.5C914.6 608.6 924.5 611.9 934.4 611.7C945.1 611.5 955.8 609.7 966.5 608.0C977.3 606.4 988.0 603.0 998.7 601.8C1005.3 601.1 1011.9 600.6 1018.5 600.6C1025.9 600.6 1033.3 601.7 1040.7 603.1C1053.1 605.3 1065.5 611.5 1077.8 615.4C1090.2 619.3 1102.6 624.4 1114.9 626.5C1124.0 628.2 1133.0 629.5 1142.1 629.5C1152.0 629.5 1161.9 627.5 1171.8 625.3C1181.7 623.2 1191.6 616.6 1201.5 614.2C1209.7 612.1 1217.9 609.9 1226.2 609.7C1234.4 609.6 1242.7 609.8 1250.9 610.5C1263.3 611.4 1275.6 614.0 1288.0 615.4C1298.7 616.7 1309.4 618.2 1320.2 618.6C1325.9 618.9 1331.7 617.7 1337.5 616.7C1341.6 615.9 1345.7 611.4 1349.8 606.8C1353.1 603.1 1356.4 594.1 1359.7 584.5C1362.2 577.3 1364.7 565.5 1367.1 554.8C1374.8 521.7 1382.5 459.9 1390.2 444.7C1393.0 439.2 1395.8 435.2 1398.6 435.4C1401.9 435.6 1405.3 439.4 1408.6 444.7C1411.9 450.0 1415.3 465.4 1418.6 478.2C1422.0 491.0 1425.3 507.2 1428.7 521.7C1432.0 536.2 1435.4 552.4 1438.7 565.2C1442.1 577.9 1445.4 592.1 1448.7 598.6C1453.2 607.4 1457.7 615.2 1462.1 617.0C1467.7 619.3 1473.3 621.7 1478.9 621.4C1485.5 621.0 1492.2 619.5 1498.9 618.0C1510.1 615.6 1521.2 611.9 1532.4 608.7C1543.5 605.5 1554.7 602.7 1565.8 598.6C1574.8 595.3 1583.7 590.1 1592.6 585.3C1600.8 580.8 1609.0 576.8 1617.2 570.0C1624.0 564.2 1630.9 552.9 1637.8 544.2C1645.8 534.0 1653.8 522.4 1661.8 513.3C1668.7 505.5 1675.5 497.1 1682.4 492.7C1689.3 488.3 1696.2 485.8 1703.0 482.4C1709.9 479.0 1716.8 475.8 1723.6 472.1C1729.3 469.0 1735.1 463.9 1740.8 461.8C1745.9 459.9 1751.1 458.4 1756.2 458.4C1761.4 458.3 1766.6 460.9 1771.7 463.5C1777.4 466.4 1783.2 473.8 1788.9 480.7C1794.6 487.6 1800.3 497.0 1806.0 506.4C1811.8 515.8 1817.5 527.6 1823.2 537.3C1828.9 547.0 1834.7 557.7 1840.4 564.8C1846.1 571.9 1851.8 579.2 1857.6 582.0C1862.1 584.2 1866.7 585.6 1871.3 585.4C1875.3 585.3 1879.3 581.4 1883.3 576.8C1887.3 572.2 1891.3 559.9 1895.3 551.1C1899.9 541.0 1904.5 529.2 1909.1 520.2C1913.1 512.3 1917.1 503.2 1921.1 499.6C1925.1 495.9 1929.1 493.6 1933.1 492.0C1938.8 489.8 1944.6 490.1 1950.3 487.5C1954.9 485.5 1959.4 479.9 1964.0 473.8C1968.6 467.7 1973.2 456.9 1977.7 448.0C1982.3 439.2 1986.9 428.1 1991.5 420.6C1996.1 413.0 2000.6 405.0 2005.2 401.7C2009.8 398.4 2014.4 394.8 2019.0 394.8C2025.8 394.8 2032.7 394.8 2039.6 394.8C2047.6 394.8 2055.6 394.8 2063.6 394.8C2069.3 394.8 2075.0 395.7 2080.8 396.5C2086.5 397.4 2092.2 400.4 2097.9 403.4C2103.7 406.5 2109.4 413.1 2115.1 420.6C2119.7 426.5 2124.3 436.9 2128.8 448.0C2133.4 459.2 2138.0 475.5 2142.6 489.3C2147.2 503.0 2151.7 518.6 2156.3 530.5C2160.9 542.4 2165.5 554.7 2170.1 561.4C2175.8 569.8 2181.5 577.4 2187.2 580.3C2195.2 584.3 2203.3 587.7 2211.3 588.8C2219.3 590.0 2227.3 590.7 2235.3 591.6C2242.2 592.4 2249.0 592.8 2255.9 594.0C2261.6 595.0 2267.4 599.3 2273.1 600.9C2278.8 602.4 2284.5 604.4 2290.2 604.3C2297.1 604.2 2304.0 602.4 2310.9 600.9C2318.9 599.1 2326.9 594.8 2334.9 594.0C2335.3 594.0 2335.6 594.0 2336.0 594.0"/>
<path stroke="#808000" d="M180.0 719.6C180.7 719.6 181.3 719.6 182.0 719.6C189.5 719.3 196.9 716.9 204.3 714.4C212.1 711.9 219.8 704.9 227.5 698.5C230.3 696.1 233.2 692.9 236.0 689.0C238.4 685.5 240.9 680.1 243.4 673.1C245.1 668.2 246.9 659.6 248.7 652.0C250.4 644.5 252.2 635.5 253.9 627.7C255.5 620.8 257.1 613.6 258.7 607.7C260.3 601.7 261.9 595.5 263.4 591.8C265.2 587.7 267.0 584.4 268.7 582.3C270.8 579.9 272.9 577.3 275.1 576.5C277.5 575.6 280.0 574.9 282.5 574.9C284.6 575.0 286.7 575.9 288.8 577.0C290.9 578.1 293.0 581.5 295.1 584.4C297.2 587.4 299.3 591.4 301.5 596.0C303.2 599.9 305.0 605.6 306.7 610.8C308.5 616.1 310.3 621.8 312.0 627.7C313.8 633.7 315.5 640.5 317.3 646.7C318.7 651.7 320.1 657.4 321.5 661.5C322.9 665.7 324.3 669.6 325.8 672.1C327.5 675.2 329.3 678.1 331.0 679.5C332.8 680.9 334.6 682.4 336.3 682.7C339.1 683.1 341.9 683.2 344.8 683.5C349.0 683.9 353.2 684.1 357.4 684.8C361.0 685.3 364.5 688.0 368.0 690.0C371.5 692.1 375.0 695.0 378.6 697.4C389.2 704.8 399.8 713.0 410.4 719.6C419.5 725.3 428.7 730.3 437.9 735.0C445.9 739.1 453.9 744.4 461.9 746.4C467.6 747.8 473.3 749.0 479.1 748.8C484.8 748.6 490.5 746.9 496.2 745.3C507.7 742.2 519.1 736.5 530.6 731.6C542.0 726.7 553.5 720.9 564.9 716.2C574.1 712.4 583.2 707.9 592.4 705.9C601.5 703.8 610.7 704.5 619.9 702.4C624.4 701.4 629.0 698.0 633.6 697.3C637.6 696.6 641.6 696.5 645.6 697.3C649.6 698.0 653.6 705.0 657.6 709.3C662.2 714.1 666.8 721.1 671.4 724.7C677.1 729.3 682.8 733.6 688.5 735.0C695.4 736.8 702.3 738.4 709.1 738.5C716.0 738.5 722.9 737.6 729.8 736.1C737.8 734.3 745.8 728.6 753.8 724.7C762.9 720.3 772.1 715.3 781.3 711.0C789.3 707.3 797.3 702.4 805.3 700.7C812.2 699.2 819.0 698.2 825.9 698.3C833.9 698.4 841.9 700.2 849.9 702.4C858.0 704.6 866.0 710.7 874.0 714.4C882.0 718.1 890.0 722.2 898.0 724.7C907.8 727.8 917.7 731.7 927.5 731.6C936.6 731.5 945.8 729.6 954.9 728.2C965.2 726.5 975.5 723.8 985.9 722.3C996.2 720.9 1006.5 719.6 1016.8 719.6C1025.9 719.6 1035.1 722.3 1044.2 724.7C1055.7 727.8 1067.1 734.5 1078.6 738.5C1090.0 742.4 1101.5 747.0 1112.9 748.8C1122.1 750.2 1131.2 751.3 1140.4 751.2C1149.5 751.1 1158.7 749.1 1167.9 747.1C1177.0 745.0 1186.2 739.5 1195.3 736.8C1204.5 734.0 1213.6 730.6 1222.8 729.9C1232.0 729.2 1241.1 728.7 1250.3 729.2C1259.4 729.7 1268.6 731.8 1277.7 733.3C1286.9 734.9 1296.1 737.6 1305.2 738.5C1312.1 739.1 1319.0 738.7 1325.8 738.5C1331.0 738.3 1336.1 733.8 1341.3 729.9C1346.6 725.8 1351.9 714.5 1357.3 698.3C1362.2 683.2 1367.1 640.3 1372.1 614.2C1374.6 601.1 1377.0 586.0 1379.5 577.1C1381.6 569.7 1383.6 562.7 1385.7 559.8C1387.3 557.4 1389.0 554.8 1390.6 554.8C1392.5 554.9 1394.4 557.4 1396.3 559.8C1398.1 562.1 1399.9 566.7 1401.8 572.1C1405.1 582.0 1408.4 600.4 1411.7 614.2C1414.5 625.9 1417.3 638.1 1420.1 648.8C1426.4 673.2 1432.8 703.8 1439.1 716.2C1442.6 722.8 1446.0 728.8 1449.5 729.9C1455.2 731.7 1460.9 733.7 1466.6 733.3C1474.6 732.8 1482.6 731.0 1490.7 729.2C1499.8 727.1 1509.0 723.8 1518.1 721.3C1525.0 719.5 1531.9 717.5 1538.7 716.2C1546.7 714.6 1554.8 714.2 1562.8 712.7C1570.8 711.2 1578.8 708.7 1586.8 705.9C1598.1 701.8 1609.3 694.8 1620.6 685.2C1628.6 678.4 1636.6 664.1 1644.6 654.3C1652.7 644.6 1660.7 635.2 1668.7 626.6C1675.5 619.3 1682.4 610.7 1689.3 606.0C1696.2 601.3 1703.0 599.8 1709.9 595.7C1716.8 591.7 1723.6 585.5 1730.5 582.0C1736.2 579.0 1741.9 575.6 1747.7 575.1C1753.4 574.6 1759.1 577.4 1764.8 580.3C1770.6 583.2 1776.3 591.6 1782.0 599.1C1787.7 606.7 1793.5 617.0 1799.2 626.6C1803.8 634.3 1808.3 643.2 1812.9 650.9C1818.6 660.5 1824.4 670.5 1830.1 678.4C1835.8 686.3 1841.5 695.1 1847.3 699.0C1853.0 702.8 1858.7 706.2 1864.4 706.5C1869.0 706.8 1873.6 704.1 1878.2 700.7C1882.7 697.3 1887.3 684.9 1891.9 674.9C1896.5 665.0 1901.1 650.8 1905.6 640.6C1907.9 635.5 1910.2 630.3 1912.5 626.6C1915.9 621.0 1919.4 614.5 1922.8 612.9C1928.5 610.2 1934.2 611.7 1940.0 609.5C1944.6 607.7 1949.1 604.4 1953.7 599.1C1958.3 593.9 1962.9 580.8 1967.4 571.7C1972.0 562.5 1976.6 552.1 1981.2 544.2C1985.8 536.3 1990.3 527.9 1994.9 523.6C1999.5 519.3 2004.1 515.2 2008.7 514.0C2013.2 512.8 2017.8 511.4 2022.4 511.6C2028.1 511.8 2033.8 513.2 2039.6 513.3C2047.6 513.5 2055.6 512.6 2063.6 512.6C2069.3 512.7 2075.0 514.8 2080.8 516.7C2086.5 518.7 2092.2 523.7 2097.9 528.8C2102.5 532.8 2107.1 539.6 2111.7 547.6C2116.3 555.6 2120.8 568.8 2125.4 582.0C2128.8 591.9 2132.3 604.8 2135.7 616.3C2139.1 627.8 2142.6 642.1 2146.0 650.9C2150.6 662.6 2155.2 672.1 2159.8 678.4C2165.5 686.2 2171.2 693.5 2176.9 697.3C2183.8 701.8 2190.7 706.0 2197.5 707.6C2204.4 709.1 2211.3 710.4 2218.1 711.0C2226.1 711.7 2234.2 711.1 2242.2 712.0C2249.0 712.8 2255.9 716.2 2262.8 717.9C2269.6 719.6 2276.5 722.5 2283.4 722.3C2290.2 722.2 2297.1 718.7 2304.0 716.8C2309.7 715.3 2315.4 713.2 2321.2 712.0C2325.7 711.1 2330.3 710.1 2334.9 710.0C2335.3 710.0 2335.6 710.0 2336.0 710.0"/>
<path stroke="#00ff00" d="M180.0 832.9C180.7 833.0 181.3 833.0 182.0 832.9C189.5 832.1 196.9 828.0 204.3 825.4C210.1 823.3 215.8 821.4 221.5 818.5C226.1 816.2 230.7 811.9 235.2 805.4C238.7 800.6 242.1 786.8 245.5 774.5C249.0 762.3 252.4 741.5 255.9 729.9C259.9 716.3 263.9 702.7 267.9 697.3C273.0 690.3 278.2 683.6 283.3 683.5C287.3 683.4 291.3 688.3 295.3 693.8C298.8 698.6 302.2 711.5 305.6 723.0C308.5 732.6 311.4 747.9 314.2 757.4C317.1 766.9 320.0 777.9 322.8 781.4C326.8 786.3 330.8 789.9 334.8 791.0C339.4 792.3 344.0 791.8 348.6 793.4C353.2 795.0 357.7 798.5 362.3 802.0C366.9 805.6 371.5 812.4 376.0 815.7C385.2 822.4 394.4 826.4 403.5 831.2C412.7 836.0 421.8 840.7 431.0 844.9C439.0 848.6 447.0 853.3 455.0 855.2C460.8 856.6 466.5 857.8 472.2 857.6C480.2 857.3 488.2 854.9 496.2 852.8C507.7 849.9 519.1 845.7 530.6 841.5C542.0 837.3 553.5 832.1 564.9 827.8C572.9 824.7 580.9 821.4 589.0 819.2C598.1 816.7 607.3 816.8 616.4 814.0C621.0 812.6 625.6 808.8 630.2 807.2C633.0 806.1 635.9 805.1 638.8 805.4C642.8 806.0 646.8 813.2 650.8 817.5C655.3 822.3 659.9 829.2 664.5 832.9C670.2 837.5 676.0 841.3 681.7 843.2C688.5 845.6 695.4 848.2 702.3 848.4C709.1 848.6 716.0 847.8 722.9 846.6C730.9 845.3 738.9 841.4 746.9 838.1C756.1 834.2 765.2 828.6 774.4 824.3C782.4 820.6 790.4 816.2 798.4 814.0C806.4 811.9 814.5 809.8 822.5 809.6C830.5 809.3 838.5 810.4 846.5 812.3C855.7 814.5 864.8 821.5 874.0 826.0C882.0 830.1 890.0 835.1 898.0 838.1C906.7 841.2 915.4 844.8 924.0 844.9C933.2 845.0 942.4 843.3 951.5 841.5C961.8 839.5 972.1 834.9 982.4 832.9C992.7 830.9 1003.0 829.0 1013.3 828.8C1022.5 828.6 1031.6 830.7 1040.8 832.9C1051.1 835.5 1061.4 842.3 1071.7 846.6C1083.2 851.5 1094.6 857.5 1106.0 860.4C1116.3 863.0 1126.6 865.6 1137.0 865.5C1146.1 865.5 1155.3 863.0 1164.4 860.4C1173.6 857.8 1182.7 851.7 1191.9 848.4C1201.1 845.0 1210.2 841.0 1219.4 839.8C1228.5 838.5 1237.7 837.5 1246.8 838.1C1256.0 838.6 1265.2 841.4 1274.3 843.2C1282.3 844.8 1290.3 847.3 1298.4 848.4C1305.2 849.3 1312.1 849.4 1319.0 849.4C1324.7 849.4 1330.4 845.4 1336.1 841.5C1340.1 838.8 1344.1 829.6 1348.1 819.2C1351.0 811.7 1353.9 796.1 1356.7 781.4C1359.6 766.7 1362.5 746.5 1365.3 729.9C1368.2 713.3 1371.0 691.0 1373.9 681.8C1376.8 672.6 1379.6 664.4 1382.5 664.6C1385.9 665.0 1389.4 673.2 1392.8 681.8C1396.2 690.5 1399.7 707.6 1403.1 723.0C1406.5 738.4 1410.0 757.7 1413.4 774.5C1416.3 788.6 1419.1 807.4 1422.0 815.7C1425.4 825.8 1428.8 833.8 1432.3 836.3C1436.9 839.7 1441.4 843.3 1446.0 843.2C1452.9 843.1 1459.8 842.7 1466.6 841.5C1475.8 839.9 1484.9 836.7 1494.1 834.6C1502.1 832.8 1510.1 831.0 1518.1 829.5C1521.6 828.8 1525.0 827.8 1528.4 827.8C1534.2 827.7 1539.9 829.4 1545.6 829.5C1552.5 829.6 1559.3 828.6 1566.2 827.8C1573.1 826.9 1579.9 823.8 1586.8 820.9C1596.9 816.6 1607.1 808.7 1617.2 798.6C1624.0 791.7 1630.9 778.5 1637.8 767.7C1644.6 756.8 1651.5 743.0 1658.4 733.3C1664.1 725.3 1669.8 717.1 1675.5 712.7C1682.4 707.4 1689.3 705.0 1696.2 700.7C1703.0 696.4 1709.9 690.2 1716.8 687.0C1723.6 683.7 1730.5 680.7 1737.4 680.1C1743.1 679.6 1748.8 681.4 1754.5 683.5C1761.4 686.1 1768.3 696.4 1775.1 705.9C1780.9 713.7 1786.6 725.9 1792.3 736.8C1798.0 747.6 1803.8 760.9 1809.5 771.1C1815.2 781.3 1820.9 791.1 1826.6 798.6C1832.4 806.0 1838.1 814.1 1843.8 817.5C1847.8 819.8 1851.8 821.8 1855.8 821.9C1859.8 822.1 1863.9 819.1 1867.9 815.7C1871.9 812.4 1875.9 801.2 1879.9 791.7C1883.9 782.2 1887.9 767.7 1891.9 757.4C1895.3 748.5 1898.8 737.8 1902.2 733.3C1906.2 728.2 1910.2 723.3 1914.2 723.0C1918.8 722.7 1923.4 725.1 1928.0 724.7C1932.0 724.5 1936.0 721.5 1940.0 717.9C1944.6 713.7 1949.1 701.5 1953.7 692.1C1958.3 682.7 1962.9 670.3 1967.4 661.2C1972.0 652.2 1976.6 643.0 1981.2 637.2C1983.5 634.3 1985.8 631.7 1988.0 630.1C1993.8 625.9 1999.5 620.8 2005.2 620.4C2010.9 620.0 2016.7 619.7 2022.4 619.8C2029.3 619.8 2036.1 620.1 2043.0 620.4C2049.9 620.8 2056.7 622.9 2063.6 624.9C2069.3 626.5 2075.0 629.8 2080.8 633.5C2084.2 635.7 2087.6 639.8 2091.1 644.0C2095.7 649.7 2100.2 657.9 2104.8 668.1C2109.4 678.3 2114.0 695.0 2118.5 709.3C2123.1 723.6 2127.7 741.6 2132.3 753.9C2136.9 766.2 2141.4 777.4 2146.0 784.8C2151.7 794.1 2157.5 802.6 2163.2 807.2C2170.1 812.7 2176.9 818.0 2183.8 819.9C2191.8 822.0 2199.8 824.3 2207.8 824.3C2215.8 824.4 2223.9 822.9 2231.9 823.3C2238.7 823.6 2245.6 825.5 2252.5 826.7C2260.5 828.1 2268.5 831.0 2276.5 831.2C2283.4 831.3 2290.2 828.4 2297.1 826.7C2304.0 825.0 2310.9 822.2 2317.7 820.9C2323.4 819.8 2329.2 818.7 2334.9 818.5C2335.3 818.5 2335.6 818.5 2336.0 818.5"/>
<path stroke="#008000" d="M180.0 949.7C180.7 949.7 181.3 949.8 182.0 949.7C189.5 948.7 196.9 943.8 204.3 941.1C210.1 939.0 215.8 937.9 221.5 935.2C225.5 933.4 229.5 928.6 233.5 922.2C237.0 916.7 240.4 901.5 243.8 887.9C246.7 876.5 249.6 856.8 252.4 846.6C255.3 836.4 258.1 827.4 261.0 822.6C265.0 815.9 269.0 811.8 273.0 807.2C276.2 803.4 279.4 797.7 282.6 796.9C286.3 795.8 290.0 804.7 293.6 812.3C297.1 819.4 300.5 834.1 303.9 846.6C306.8 857.1 309.7 872.3 312.5 881.0C315.4 889.7 318.2 898.8 321.1 901.6C324.5 905.0 328.0 907.2 331.4 908.5C334.8 909.8 338.3 909.5 341.7 911.2C346.3 913.5 350.9 919.7 355.4 923.9C361.2 929.1 366.9 935.6 372.6 939.4C382.9 946.1 393.2 950.1 403.5 954.8C412.7 959.0 421.8 964.3 431.0 966.8C437.9 968.7 444.7 970.2 451.6 971.0C457.3 971.6 463.0 972.3 468.8 972.0C477.9 971.5 487.1 967.0 496.2 965.1C505.4 963.3 514.6 962.7 523.7 960.7C531.7 958.9 539.7 956.0 547.7 953.1C556.9 949.7 566.1 944.5 575.2 941.1C582.1 938.5 589.0 936.2 595.8 934.2C601.0 932.8 606.1 932.6 611.3 930.8C615.3 929.3 619.3 924.2 623.3 922.2C626.2 920.8 629.0 919.4 631.9 919.5C635.3 919.6 638.8 923.8 642.2 927.3C646.2 931.5 650.2 940.7 654.2 944.5C659.9 949.9 665.7 953.9 671.4 956.5C678.2 959.7 685.1 963.1 692.0 964.1C697.7 964.9 703.4 965.5 709.1 965.1C717.2 964.6 725.2 961.3 733.2 958.3C742.3 954.8 751.5 948.8 760.7 944.5C769.8 940.2 779.0 935.5 788.1 932.5C795.0 930.3 801.9 927.8 808.7 927.3C814.5 927.0 820.2 927.0 825.9 927.3C833.9 927.9 841.9 931.2 849.9 934.2C858.0 937.2 866.0 942.2 874.0 946.2C880.9 949.7 887.7 954.8 894.6 956.5C904.4 959.0 914.2 960.7 924.0 960.7C932.1 960.6 940.1 959.6 948.1 958.3C958.4 956.5 968.7 951.1 979.0 949.0C989.3 946.8 999.6 944.7 1009.9 944.5C1019.0 944.4 1028.2 947.0 1037.4 949.7C1047.7 952.7 1058.0 960.3 1068.3 965.1C1078.6 970.0 1088.9 976.1 1099.2 978.9C1109.5 981.6 1119.8 984.0 1130.1 984.0C1139.2 984.0 1148.4 981.6 1157.6 978.9C1166.7 976.2 1175.9 969.1 1185.0 965.1C1194.2 961.2 1203.3 956.2 1212.5 954.8C1221.7 953.5 1230.8 952.6 1240.0 953.1C1249.1 953.6 1258.3 956.2 1267.4 958.3C1275.5 960.1 1283.5 963.7 1291.5 965.1C1298.4 966.4 1305.2 966.7 1312.1 966.8C1317.8 966.9 1323.5 963.5 1329.3 960.0C1333.3 957.5 1337.3 947.3 1341.3 935.9C1344.1 927.8 1347.0 910.6 1349.9 894.7C1352.7 878.9 1355.6 856.9 1358.4 839.8C1361.3 822.6 1364.2 799.9 1367.0 791.7C1369.6 784.5 1372.1 778.3 1374.6 778.7C1377.8 779.1 1381.0 786.8 1384.2 795.1C1387.6 804.0 1391.1 823.2 1394.5 839.8C1397.9 856.3 1401.4 877.3 1404.8 894.7C1407.7 909.2 1410.5 927.1 1413.4 935.9C1416.3 944.8 1419.1 953.1 1422.0 954.8C1426.6 957.6 1431.1 960.2 1435.7 960.0C1442.6 959.6 1449.5 958.5 1456.3 957.2C1465.5 955.6 1474.6 953.3 1483.8 951.4C1492.9 949.4 1502.1 946.8 1511.3 945.5C1515.8 944.9 1520.4 944.4 1525.0 944.5C1530.7 944.7 1536.4 947.7 1542.2 948.0C1549.0 948.3 1555.9 947.2 1562.8 946.2C1569.6 945.2 1576.5 942.2 1583.4 939.4C1594.6 934.7 1605.9 926.7 1617.2 915.3C1622.9 909.6 1628.6 897.6 1634.3 887.9C1640.1 878.1 1645.8 866.0 1651.5 857.0C1657.2 847.9 1663.0 838.8 1668.7 832.9C1675.5 825.9 1682.4 820.7 1689.3 815.7C1696.2 810.7 1703.0 806.0 1709.9 802.0C1716.2 798.3 1722.5 793.4 1728.8 792.4C1733.9 791.6 1739.1 793.3 1744.2 795.1C1750.0 797.2 1755.7 804.9 1761.4 812.3C1767.1 819.7 1772.8 831.8 1778.6 843.2C1784.3 854.6 1790.0 869.6 1795.7 881.0C1801.5 892.3 1807.2 903.3 1812.9 911.9C1818.6 920.5 1824.4 929.9 1830.1 934.2C1835.2 938.1 1840.4 941.8 1845.5 942.1C1849.5 942.3 1853.5 939.9 1857.6 937.7C1862.1 935.0 1866.7 927.9 1871.3 918.8C1875.3 910.8 1879.3 893.3 1883.3 881.0C1886.7 870.4 1890.2 856.5 1893.6 850.1C1896.5 844.7 1899.3 839.1 1902.2 839.1C1905.6 839.1 1909.1 840.2 1912.5 841.5C1916.5 843.0 1920.5 847.8 1924.5 848.4C1928.0 848.9 1931.4 842.2 1934.8 836.3C1938.8 829.5 1942.8 815.6 1946.8 805.4C1951.4 793.8 1956.0 780.6 1960.6 771.1C1965.2 761.6 1969.7 752.3 1974.3 747.1C1978.9 741.8 1983.5 735.8 1988.0 735.0C1993.8 734.1 1999.5 733.1 2005.2 733.3C2010.9 733.5 2016.7 734.1 2022.4 734.4C2029.3 734.7 2036.1 734.6 2043.0 735.0C2048.7 735.4 2054.4 739.0 2060.2 741.9C2065.9 744.9 2071.6 750.1 2077.3 755.6C2081.9 760.1 2086.5 766.6 2091.1 774.5C2095.1 781.5 2099.1 792.8 2103.1 805.4C2107.1 818.0 2111.1 840.4 2115.1 853.5C2119.7 868.5 2124.3 881.7 2128.8 891.3C2133.4 900.9 2138.0 910.0 2142.6 915.3C2148.3 921.9 2154.0 928.0 2159.8 930.8C2167.8 934.7 2175.8 938.5 2183.8 939.4C2191.8 940.2 2199.8 940.9 2207.8 941.1C2215.8 941.2 2223.9 940.8 2231.9 941.1C2238.7 941.3 2245.6 944.7 2252.5 945.5C2259.3 946.4 2266.2 947.2 2273.1 946.9C2279.9 946.6 2286.8 944.3 2293.7 942.8C2300.5 941.3 2307.4 938.6 2314.3 937.7C2321.2 936.7 2328.0 936.0 2334.9 935.9C2335.3 935.9 2335.6 935.9 2336.0 935.9"/>
<path stroke="#00ffff" d="M180.0 1057.8C180.7 1057.9 181.3 1057.9 182.0 1057.8C188.3 1056.9 194.6 1051.4 200.9 1049.3C207.8 1046.9 214.6 1047.4 221.5 1045.1C224.9 1044.0 228.4 1038.6 231.8 1032.1C234.7 1026.6 237.5 1011.1 240.4 997.7C242.7 987.1 245.0 967.9 247.3 960.0C249.6 952.1 251.8 947.3 254.1 942.8C258.1 935.0 262.1 929.3 266.2 922.2C269.0 917.2 271.9 910.3 274.7 906.7C277.0 903.9 279.3 901.4 281.6 901.6C284.5 901.9 287.3 909.2 290.2 915.3C293.6 922.6 297.1 934.9 300.5 946.2C303.9 957.6 307.4 973.0 310.8 984.0C313.7 993.2 316.5 1005.2 319.4 1008.0C323.4 1012.0 327.4 1013.4 331.4 1015.6C334.3 1017.2 337.1 1017.9 340.0 1020.1C344.0 1023.1 348.0 1032.7 352.0 1037.2C357.7 1043.8 363.5 1050.6 369.2 1053.4C378.3 1057.8 387.5 1059.8 396.6 1063.0C405.8 1066.2 415.0 1070.4 424.1 1072.6C431.0 1074.2 437.9 1075.9 444.7 1076.0C451.6 1076.1 458.5 1075.7 465.3 1075.0C472.2 1074.3 479.1 1072.3 485.9 1071.6C496.2 1070.4 506.5 1071.0 516.8 1069.9C524.9 1069.0 532.9 1065.8 540.9 1063.0C550.0 1059.8 559.2 1054.6 568.4 1051.0C576.4 1047.8 584.4 1045.3 592.4 1042.4C597.0 1040.7 601.5 1039.7 606.1 1037.2C609.6 1035.4 613.0 1029.2 616.4 1026.9C619.3 1025.0 622.2 1023.0 625.0 1023.5C628.4 1024.1 631.9 1029.9 635.3 1033.8C639.3 1038.4 643.3 1045.6 647.3 1049.3C653.1 1054.5 658.8 1058.5 664.5 1061.3C671.4 1064.6 678.2 1068.2 685.1 1069.2C692.0 1070.2 698.8 1070.9 705.7 1070.5C712.6 1070.2 719.5 1067.8 726.3 1065.7C735.5 1062.9 744.6 1057.7 753.8 1054.4C762.9 1051.1 772.1 1048.9 781.3 1045.8C788.1 1043.5 795.0 1039.8 801.9 1038.3C807.6 1037.0 813.3 1036.0 819.0 1036.2C825.9 1036.4 832.8 1039.2 839.6 1041.7C847.7 1044.6 855.7 1049.9 863.7 1053.4C871.7 1056.9 879.7 1061.0 887.7 1063.0C899.8 1066.1 911.9 1069.3 924.0 1069.2C932.1 1069.1 940.1 1067.4 948.1 1065.7C957.2 1063.9 966.4 1059.7 975.5 1057.8C985.9 1055.7 996.2 1053.5 1006.5 1053.4C1015.6 1053.2 1024.8 1056.0 1033.9 1058.9C1043.1 1061.7 1052.2 1068.9 1061.4 1073.3C1071.7 1078.3 1082.0 1084.3 1092.3 1087.0C1102.6 1089.8 1112.9 1092.3 1123.2 1092.2C1132.4 1092.1 1141.5 1089.2 1150.7 1086.3C1159.8 1083.5 1169.0 1077.0 1178.2 1073.3C1187.3 1069.6 1196.5 1065.5 1205.6 1063.7C1214.8 1061.8 1223.9 1059.9 1233.1 1060.2C1242.3 1060.6 1251.4 1063.5 1260.6 1065.7C1268.6 1067.7 1276.6 1071.0 1284.6 1072.6C1291.5 1074.0 1298.4 1074.8 1305.2 1075.0C1310.4 1075.2 1315.5 1071.5 1320.7 1068.1C1324.7 1065.5 1328.7 1056.5 1332.7 1045.8C1335.6 1038.2 1338.4 1020.5 1341.3 1004.6C1344.1 988.8 1347.0 967.4 1349.9 949.7C1352.7 931.9 1355.6 907.5 1358.4 898.2C1360.7 890.7 1363.0 884.3 1365.3 884.4C1368.8 884.6 1372.2 892.4 1375.6 901.6C1379.1 910.8 1382.5 932.0 1385.9 949.7C1389.4 967.4 1392.8 989.4 1396.2 1008.0C1399.1 1023.6 1401.9 1046.2 1404.8 1052.7C1408.2 1060.5 1411.7 1066.6 1415.1 1066.4C1420.8 1066.2 1426.6 1065.5 1432.3 1064.7C1440.3 1063.7 1448.3 1062.4 1456.3 1061.3C1465.5 1060.0 1474.6 1059.3 1483.8 1057.8C1492.9 1056.4 1502.1 1050.9 1511.3 1051.0C1515.8 1051.0 1520.4 1052.6 1525.0 1053.4C1531.9 1054.5 1538.7 1056.3 1545.6 1056.8C1553.6 1057.4 1561.6 1056.5 1569.6 1055.4C1576.5 1054.6 1583.4 1049.8 1590.2 1045.8C1598.1 1041.3 1605.9 1034.6 1613.7 1025.2C1619.5 1018.4 1625.2 1005.2 1630.9 994.3C1636.6 983.5 1642.4 969.5 1648.1 960.0C1653.8 950.5 1659.5 941.8 1665.2 935.9C1672.1 928.9 1679.0 923.8 1685.9 918.8C1692.7 913.8 1699.6 909.2 1706.5 905.0C1712.8 901.2 1719.0 895.8 1725.3 894.7C1730.5 893.8 1735.6 897.8 1740.8 901.6C1746.5 905.8 1752.2 917.9 1758.0 929.1C1763.7 940.2 1769.4 957.1 1775.1 970.3C1780.9 983.4 1786.6 997.4 1792.3 1008.0C1798.0 1018.7 1803.8 1029.1 1809.5 1035.5C1814.6 1041.3 1819.8 1047.1 1824.9 1049.3C1828.9 1050.9 1832.9 1052.1 1837.0 1052.0C1842.1 1051.9 1847.3 1047.1 1852.4 1042.4C1857.0 1038.2 1861.6 1026.7 1866.1 1014.9C1870.1 1004.6 1874.2 985.3 1878.2 973.7C1881.6 963.7 1885.0 951.8 1888.5 948.0C1891.0 945.1 1893.5 942.4 1896.0 943.5C1899.2 944.8 1902.4 951.3 1905.6 954.8C1909.1 958.6 1912.5 964.1 1915.9 965.1C1918.8 966.0 1921.7 960.3 1924.5 954.8C1928.5 947.2 1932.5 927.3 1936.5 915.3C1941.1 901.7 1945.7 888.2 1950.3 877.6C1954.9 866.9 1959.4 855.0 1964.0 850.1C1968.6 845.1 1973.2 840.2 1977.7 839.8C1983.5 839.3 1989.2 838.7 1994.9 839.1C2000.6 839.5 2006.4 841.2 2012.1 841.5C2017.8 841.8 2023.5 840.4 2029.3 840.5C2035.0 840.6 2040.7 844.9 2046.4 848.4C2052.2 851.8 2057.9 857.8 2063.6 863.8C2069.3 869.9 2075.0 877.8 2080.8 887.9C2085.3 895.9 2089.9 908.8 2094.5 922.2C2098.5 933.9 2102.5 950.3 2106.5 963.4C2110.5 976.6 2114.5 992.1 2118.5 1001.2C2123.1 1011.6 2127.7 1020.4 2132.3 1025.2C2138.0 1031.2 2143.7 1036.4 2149.5 1039.0C2156.3 1042.0 2163.2 1045.1 2170.1 1045.8C2178.1 1046.7 2186.1 1047.4 2194.1 1047.5C2202.1 1047.6 2210.1 1047.3 2218.1 1047.5C2226.1 1047.8 2234.2 1050.0 2242.2 1051.0C2250.2 1052.0 2258.2 1053.4 2266.2 1053.4C2274.2 1053.4 2282.2 1050.9 2290.2 1049.3C2297.1 1047.8 2304.0 1044.1 2310.9 1044.1C2318.9 1044.1 2326.9 1044.1 2334.9 1044.1C2335.3 1044.1 2335.6 1044.1 2336.0 1044.1"/>
<path stroke="#0000ff" d="M180.0 1166.0C180.7 1166.1 181.3 1166.1 182.0 1166.0C188.3 1165.3 194.6 1160.8 200.9 1159.1C207.8 1157.3 214.6 1158.0 221.5 1156.4C224.9 1155.6 228.4 1150.4 231.8 1143.7C234.1 1139.2 236.4 1125.5 238.7 1114.5C241.0 1103.5 243.3 1084.2 245.5 1076.7C247.8 1069.3 250.1 1064.6 252.4 1061.3C256.4 1055.4 260.4 1056.4 264.4 1049.3C267.3 1044.2 270.2 1028.4 273.0 1021.8C275.5 1015.9 278.1 1008.8 280.6 1008.7C283.2 1008.7 285.8 1015.8 288.5 1021.8C291.3 1028.3 294.2 1039.0 297.1 1049.3C299.9 1059.5 302.8 1073.4 305.6 1083.6C308.5 1093.8 311.4 1106.1 314.2 1111.1C316.5 1115.1 318.8 1117.3 321.1 1119.7C325.7 1124.3 330.3 1126.5 334.8 1131.7C339.4 1136.9 344.0 1147.4 348.6 1152.3C354.3 1158.3 360.0 1163.8 365.7 1166.0C373.8 1169.1 381.8 1170.9 389.8 1172.9C398.9 1175.1 408.1 1177.3 417.3 1179.1C425.3 1180.6 433.3 1183.1 441.3 1183.2C447.0 1183.3 452.7 1182.2 458.5 1181.5C463.0 1180.9 467.6 1179.1 472.2 1179.1C477.9 1179.0 483.6 1179.9 489.4 1180.4C496.2 1181.1 503.1 1182.3 510.0 1182.5C516.8 1182.7 523.7 1180.6 530.6 1179.1C538.6 1177.3 546.6 1174.4 554.6 1171.2C562.6 1168.0 570.6 1162.9 578.7 1159.1C585.5 1155.9 592.4 1154.8 599.3 1150.6C602.7 1148.5 606.1 1143.5 609.6 1140.3C612.2 1137.8 614.8 1133.6 617.5 1133.4C620.5 1133.2 623.6 1139.7 626.7 1143.7C630.2 1148.2 633.6 1155.8 637.0 1159.1C642.8 1164.7 648.5 1168.3 654.2 1171.2C661.1 1174.6 667.9 1178.2 674.8 1179.8C682.8 1181.6 690.8 1183.6 698.8 1183.2C705.7 1182.9 712.6 1180.2 719.5 1178.0C728.6 1175.2 737.8 1170.9 746.9 1167.7C756.1 1164.6 765.2 1162.1 774.4 1159.1C781.3 1156.9 788.1 1153.5 795.0 1152.3C801.9 1151.1 808.7 1150.4 815.6 1150.6C822.5 1150.7 829.3 1152.2 836.2 1154.0C844.2 1156.1 852.2 1160.9 860.2 1164.3C868.3 1167.7 876.3 1173.0 884.3 1174.6C897.5 1177.2 910.8 1178.9 924.0 1178.5C933.2 1178.2 942.4 1176.6 951.5 1175.0C960.7 1173.4 969.8 1169.8 979.0 1168.2C988.1 1166.5 997.3 1164.9 1006.5 1164.7C1015.6 1164.6 1024.8 1167.2 1033.9 1169.9C1043.1 1172.6 1052.2 1179.3 1061.4 1183.6C1071.7 1188.5 1082.0 1194.9 1092.3 1197.4C1101.5 1199.6 1110.6 1201.5 1119.8 1201.5C1128.9 1201.5 1138.1 1199.6 1147.3 1197.4C1156.4 1195.1 1165.6 1189.0 1174.7 1185.3C1183.9 1181.6 1193.0 1177.1 1202.2 1175.0C1210.2 1173.3 1218.2 1171.6 1226.2 1171.6C1235.4 1171.7 1244.6 1173.3 1253.7 1175.0C1261.7 1176.5 1269.7 1180.3 1277.7 1181.9C1284.6 1183.3 1291.5 1184.1 1298.4 1184.3C1303.5 1184.5 1308.7 1181.5 1313.8 1178.5C1317.2 1176.5 1320.7 1167.1 1324.1 1156.2C1329.8 1137.9 1335.6 1091.4 1341.3 1056.1C1343.9 1039.9 1346.5 1013.6 1349.2 1004.6C1351.5 996.8 1353.8 990.6 1356.0 990.9C1359.1 991.3 1362.2 999.1 1365.3 1008.0C1368.8 1018.0 1372.2 1040.8 1375.6 1059.6C1380.8 1087.7 1385.9 1133.0 1391.1 1152.7C1393.4 1161.5 1395.7 1170.0 1397.9 1171.6C1401.4 1174.0 1404.8 1176.4 1408.2 1176.1C1416.3 1175.3 1424.3 1172.9 1432.3 1171.6C1443.7 1169.8 1455.2 1167.7 1466.6 1166.5C1476.9 1165.3 1487.2 1164.7 1497.5 1163.7C1502.1 1163.3 1506.7 1162.4 1511.3 1162.3C1517.0 1162.3 1522.7 1165.3 1528.4 1166.5C1535.3 1167.8 1542.2 1169.5 1549.0 1169.9C1557.1 1170.3 1565.1 1168.2 1573.1 1166.5C1579.9 1165.0 1586.8 1160.2 1593.7 1154.4C1604.9 1145.0 1616.2 1120.9 1627.5 1100.8C1633.2 1090.5 1638.9 1075.9 1644.6 1066.4C1650.4 1057.0 1656.1 1048.6 1661.8 1042.4C1668.7 1034.9 1675.5 1029.1 1682.4 1023.5C1689.3 1017.9 1696.2 1011.9 1703.0 1008.0C1708.7 1004.9 1714.5 1001.6 1720.2 1001.2C1724.8 1000.8 1729.3 1005.3 1733.9 1009.8C1738.5 1014.2 1743.1 1025.8 1747.7 1035.5C1752.8 1046.5 1758.0 1060.2 1763.1 1073.3C1768.3 1086.4 1773.4 1102.7 1778.6 1114.5C1783.7 1126.4 1788.9 1138.1 1794.0 1145.4C1799.2 1152.7 1804.3 1160.0 1809.5 1162.6C1814.6 1165.2 1819.8 1167.7 1824.9 1167.7C1830.1 1167.8 1835.2 1165.1 1840.4 1162.6C1845.0 1160.3 1849.5 1153.6 1854.1 1145.4C1858.1 1138.2 1862.1 1121.8 1866.1 1107.6C1869.6 1095.5 1873.0 1075.1 1876.4 1066.4C1879.5 1058.6 1882.6 1049.8 1885.7 1051.0C1888.9 1052.2 1892.1 1060.6 1895.3 1066.4C1898.2 1071.6 1901.1 1079.9 1903.9 1083.6C1905.6 1085.8 1907.3 1087.6 1909.1 1087.7C1911.9 1087.9 1914.8 1082.8 1917.7 1076.7C1921.1 1069.5 1924.5 1048.2 1928.0 1035.5C1932.0 1020.8 1936.0 1005.2 1940.0 994.3C1944.6 981.8 1949.1 970.1 1953.7 963.4C1958.3 956.7 1962.9 949.5 1967.4 948.0C1971.5 946.6 1975.5 945.1 1979.5 945.5C1984.6 946.2 1989.8 950.0 1994.9 950.4C2000.6 950.8 2006.4 950.1 2012.1 950.4C2017.8 950.6 2023.5 952.7 2029.3 954.8C2035.0 957.0 2040.7 963.0 2046.4 968.6C2052.2 974.1 2057.9 982.1 2063.6 990.9C2068.8 998.8 2073.9 1009.2 2079.1 1021.8C2083.1 1031.6 2087.1 1046.0 2091.1 1059.6C2094.5 1071.2 2097.9 1087.5 2101.4 1097.3C2105.4 1108.8 2109.4 1119.0 2113.4 1124.8C2118.5 1132.3 2123.7 1138.8 2128.8 1142.0C2135.7 1146.2 2142.6 1150.0 2149.5 1151.6C2158.6 1153.7 2167.8 1155.8 2176.9 1156.4C2187.2 1157.1 2197.5 1156.6 2207.8 1157.4C2217.0 1158.2 2226.1 1160.8 2235.3 1161.9C2245.6 1163.1 2255.9 1164.6 2266.2 1164.3C2274.2 1164.1 2282.2 1161.8 2290.2 1160.9C2297.1 1160.1 2304.0 1159.1 2310.9 1159.1C2318.9 1159.2 2326.9 1162.9 2334.9 1163.3C2335.3 1163.3 2335.6 1163.3 2336.0 1163.3"/>
<path stroke="#000080" d="M180.0 1271.7C180.7 1271.8 181.3 1271.8 182.0 1271.7C187.2 1271.3 192.3 1268.3 197.5 1267.3C203.2 1266.1 208.9 1266.5 214.6 1265.5C218.6 1264.9 222.7 1261.2 226.7 1255.2C229.5 1251.0 232.4 1234.2 235.2 1224.3C239.3 1210.6 243.3 1188.2 247.3 1184.9C250.7 1182.1 254.1 1187.5 257.6 1185.9C260.4 1184.6 263.3 1177.7 266.2 1169.5C268.4 1162.9 270.7 1143.6 273.0 1135.1C275.9 1124.5 278.7 1111.3 281.6 1111.1C284.5 1110.8 287.3 1119.9 290.2 1128.2C293.1 1136.6 295.9 1152.1 298.8 1162.6C303.9 1181.4 309.1 1203.2 314.2 1214.0C318.8 1223.6 323.4 1226.5 328.0 1234.6C331.4 1240.8 334.8 1249.7 338.3 1255.2C341.7 1260.8 345.1 1266.4 348.6 1269.0C353.2 1272.4 357.7 1275.0 362.3 1276.5C369.2 1278.8 376.0 1280.9 382.9 1282.0C392.1 1283.5 401.2 1284.7 410.4 1285.5C419.5 1286.2 428.7 1287.0 437.9 1286.8C442.4 1286.7 447.0 1285.4 451.6 1284.4C455.0 1283.8 458.5 1282.2 461.9 1282.0C465.3 1281.9 468.8 1282.8 472.2 1283.4C477.9 1284.5 483.6 1287.2 489.4 1287.9C495.1 1288.5 500.8 1289.0 506.5 1288.9C513.4 1288.8 520.3 1287.8 527.1 1286.8C534.0 1285.8 540.9 1283.5 547.7 1281.0C554.6 1278.5 561.5 1273.9 568.4 1270.7C575.2 1267.5 582.1 1266.5 589.0 1262.1C593.0 1259.6 597.0 1253.1 601.0 1248.4C603.8 1245.0 606.7 1238.1 609.6 1238.1C612.4 1238.0 615.3 1246.5 618.1 1250.1C622.2 1255.1 626.2 1260.7 630.2 1263.8C635.9 1268.3 641.6 1270.9 647.3 1274.1C654.2 1278.0 661.1 1283.1 667.9 1285.5C674.8 1287.8 681.7 1289.9 688.5 1290.3C693.1 1290.5 697.7 1290.6 702.3 1290.3C708.0 1289.8 713.7 1287.3 719.5 1285.5C726.3 1283.2 733.2 1279.5 740.1 1277.6C749.2 1275.0 758.4 1274.1 767.5 1271.7C774.4 1270.0 781.3 1267.1 788.1 1265.5C795.0 1264.0 801.9 1262.3 808.7 1262.1C814.5 1262.0 820.2 1262.9 825.9 1263.8C833.9 1265.2 841.9 1268.1 849.9 1270.7C858.0 1273.3 866.0 1276.8 874.0 1279.3C882.0 1281.7 890.0 1285.1 898.0 1285.5C907.8 1285.9 917.7 1285.5 927.5 1284.4C937.8 1283.4 948.1 1280.2 958.4 1278.6C967.5 1277.2 976.7 1275.4 985.9 1275.2C995.0 1275.0 1004.2 1277.5 1013.3 1280.0C1023.6 1282.7 1033.9 1289.1 1044.2 1293.0C1055.7 1297.4 1067.1 1302.5 1078.6 1305.0C1088.9 1307.3 1099.2 1309.4 1109.5 1309.5C1118.6 1309.6 1127.8 1307.4 1137.0 1305.0C1146.1 1302.7 1155.3 1296.7 1164.4 1293.0C1173.6 1289.3 1182.7 1284.8 1191.9 1282.7C1201.1 1280.6 1210.2 1278.4 1219.4 1278.6C1228.5 1278.7 1237.7 1281.2 1246.8 1283.4C1254.9 1285.3 1262.9 1289.4 1270.9 1291.3C1277.7 1292.9 1284.6 1294.3 1291.5 1294.7C1297.2 1295.1 1302.9 1293.1 1308.7 1291.3C1312.1 1290.2 1315.5 1283.1 1319.0 1275.9C1321.8 1269.8 1324.7 1254.8 1327.5 1238.1C1331.5 1214.6 1335.6 1163.8 1339.6 1135.1C1342.4 1114.6 1345.3 1084.7 1348.1 1083.6C1351.6 1082.3 1355.0 1102.1 1358.4 1117.9C1361.3 1131.2 1364.2 1150.2 1367.0 1169.5C1369.9 1188.7 1372.8 1215.4 1375.6 1234.6C1377.3 1246.2 1379.1 1260.1 1380.8 1265.5C1383.1 1272.8 1385.3 1279.0 1387.6 1280.0C1391.1 1281.4 1394.5 1283.1 1397.9 1282.7C1403.7 1282.2 1409.4 1280.6 1415.1 1279.3C1422.0 1277.7 1428.8 1274.9 1435.7 1274.1C1444.9 1273.1 1454.0 1272.4 1463.2 1272.4C1472.3 1272.4 1481.5 1273.0 1490.7 1273.1C1496.4 1273.1 1502.1 1271.6 1507.8 1271.7C1512.4 1271.8 1517.0 1276.1 1521.6 1277.6C1527.3 1279.4 1533.0 1281.8 1538.7 1282.0C1545.6 1282.3 1552.5 1280.8 1559.3 1279.3C1566.2 1277.8 1573.1 1274.3 1579.9 1270.7C1586.8 1267.1 1593.7 1261.1 1600.5 1255.2C1604.9 1251.5 1609.3 1247.6 1613.7 1241.5C1618.3 1235.2 1622.9 1222.4 1627.5 1210.6C1632.1 1198.8 1636.6 1179.9 1641.2 1169.5C1646.9 1156.4 1652.7 1145.2 1658.4 1138.5C1665.2 1130.6 1672.1 1124.8 1679.0 1119.7C1685.9 1114.5 1692.7 1108.4 1699.6 1105.9C1704.7 1104.1 1709.9 1103.4 1715.0 1103.5C1719.6 1103.6 1724.2 1108.6 1728.8 1114.5C1732.8 1119.7 1736.8 1134.6 1740.8 1145.4C1744.8 1156.3 1748.8 1167.3 1752.8 1179.8C1756.8 1192.2 1760.8 1209.7 1764.8 1220.9C1768.3 1230.5 1771.7 1239.5 1775.1 1244.9C1779.7 1252.2 1784.3 1258.0 1788.9 1262.1C1793.5 1266.3 1798.0 1271.0 1802.6 1272.4C1807.2 1273.9 1811.8 1275.1 1816.3 1275.2C1820.9 1275.2 1825.5 1273.8 1830.1 1272.4C1834.7 1271.0 1839.2 1265.2 1843.8 1258.7C1847.3 1253.8 1850.7 1242.2 1854.1 1231.2C1859.3 1214.7 1864.4 1186.5 1869.6 1169.5C1871.9 1161.9 1874.2 1151.3 1876.4 1150.6C1879.3 1149.7 1882.2 1160.5 1885.0 1169.5C1887.3 1176.6 1889.6 1196.4 1891.9 1200.4C1894.2 1204.4 1896.5 1206.5 1898.8 1205.5C1901.6 1204.1 1904.5 1197.1 1907.3 1190.1C1911.4 1180.2 1915.4 1162.6 1919.4 1148.8C1923.4 1135.1 1927.4 1119.5 1931.4 1107.6C1935.4 1095.8 1939.4 1084.9 1943.4 1076.7C1948.0 1067.4 1952.6 1057.2 1957.1 1053.4C1961.7 1049.6 1966.3 1045.3 1970.9 1045.8C1976.6 1046.4 1982.3 1049.9 1988.0 1051.0C1994.9 1052.3 2001.8 1052.0 2008.7 1053.4C2014.4 1054.5 2020.1 1058.7 2025.8 1063.0C2036.1 1070.8 2046.4 1088.6 2056.7 1107.5C2061.3 1115.9 2065.9 1128.6 2070.5 1141.8C2073.9 1151.7 2077.3 1165.3 2080.8 1176.2C2084.2 1187.0 2087.6 1198.8 2091.1 1207.1C2095.1 1216.7 2099.1 1225.9 2103.1 1231.1C2108.2 1237.8 2113.4 1243.5 2118.5 1246.6C2124.3 1249.9 2130.0 1253.2 2135.7 1254.5C2142.6 1256.0 2149.5 1256.9 2156.3 1257.9C2165.5 1259.1 2174.6 1260.3 2183.8 1261.3C2195.2 1262.6 2206.7 1263.4 2218.1 1264.8C2227.3 1265.9 2236.4 1267.9 2245.6 1268.9C2253.6 1269.7 2261.6 1270.8 2269.6 1270.6C2276.5 1270.4 2283.4 1268.8 2290.2 1268.2C2296.0 1267.7 2301.7 1267.2 2307.4 1267.2C2312.0 1267.1 2316.6 1268.0 2321.2 1268.9C2325.7 1269.8 2330.3 1274.4 2334.9 1275.1C2335.3 1275.1 2335.6 1275.1 2336.0 1275.1"/>
</g>
<rect x="344" y="107" width="995" height="88.5" fill="#000"/>
<rect x="323" y="86" width="992.5" height="88" fill="#fff" stroke="#000" stroke-width="2"/>
<text x="362" y="153" font-size="64" textLength="917" lengthAdjust="spacing">[1ethyl3methylimidazolium][TfO]</text>
<path d="M177 62H2339V69H177ZM2333 62H2339V1710H2333Z" fill="#000" shape-rendering="crispEdges"/>
<path d="M315.2 69.0v11M449.9 69.0v26M584.7 69.0v11M719.4 69.0v26M854.1 69.0v11M988.8 69.0v26M1123.5 69.0v11M1258.2 69.0v26M1393.0 69.0v11M1527.7 69.0v26M1662.4 69.0v11M1797.1 69.0v26M1931.8 69.0v11M2066.6 69.0v26M2201.3 69.0v11M2333 1543.0h-12M2333 1378.8h-26M2333 1214.6h-12M2333 1050.4h-26M2333 886.2h-12M2333 722.0h-26M2333 557.8h-12M2333 393.6h-26M2333 229.4h-12" stroke="#000" stroke-width="6" fill="none" shape-rendering="crispEdges"/>
<text x="1268.0" y="262.4" font-size="68" fill="#ff0000" text-anchor="end">10.0 GPa</text>
<text x="1268.0" y="367.8" font-size="68" fill="#ff007f" text-anchor="end">9.0 GPa</text>
<text x="1268.0" y="482.2" font-size="68" fill="#ff00ff" text-anchor="end">8.0 GPa</text>
<text x="1268.0" y="590.3" font-size="68" fill="#ff8000" text-anchor="end">7.0 GPa</text>
<text x="1270.2" y="698.3" font-size="68" fill="#808000" text-anchor="end">6.0 GPa</text>
<text x="1274.3" y="819.2" font-size="68" fill="#00ff00" text-anchor="end">5.0 GPa</text>
<text x="1281.2" y="935.2" font-size="68" fill="#008000" text-anchor="end">4.0 GPa</text>
<text x="1277.7" y="1049.3" font-size="68" fill="#00ffff" text-anchor="end">3.0 GPa</text>
<text x="1280.5" y="1159.1" font-size="68" fill="#0000ff" text-anchor="end">2.0 GPa</text>
<text x="1279.5" y="1273.4" font-size="68" fill="#000080" text-anchor="end">1.0 GPa</text>
<text x="1286.3" y="1378.2" font-size="68" fill="#000080" text-anchor="end">0.1 GPa</text>
<text x="1117.3" y="1548.2" font-size="64" fill="#ff0000" text-anchor="end">320 K</text>
<text x="1111" y="1660.5" font-size="64" fill="#000" text-anchor="end">120 K</text>
<text x="318" y="1642.5" font-size="70.5" fill="#000">heating</text>
<text x="180.5" y="1797.5" font-size="76" text-anchor="middle">600</text>
<text x="449.9" y="1797.5" font-size="76" text-anchor="middle">700</text>
<text x="719.4" y="1797.5" font-size="76" text-anchor="middle">800</text>
<text x="988.8" y="1797.5" font-size="76" text-anchor="middle">900</text>
<text x="1258.2" y="1797.5" font-size="76" text-anchor="middle">1000</text>
<text x="1527.7" y="1797.5" font-size="76" text-anchor="middle">1100</text>
<text x="1797.1" y="1797.5" font-size="76" text-anchor="middle">1200</text>
<text x="2066.6" y="1797.5" font-size="76" text-anchor="middle">1300</text>
<text x="2336.0" y="1797.5" font-size="76" text-anchor="middle">1400</text>
<text x="796.5" y="1883.5" font-size="90">wavenumber (cm<tspan font-size="55" x="1486.5" y="1835">-1</tspan><tspan x="1536.5" y="1883.5">)</tspan></text>
<text transform="translate(107.5,1169) rotate(-90)" font-size="90">absorbance (a.u.)</text>
</svg>
</body></html>
